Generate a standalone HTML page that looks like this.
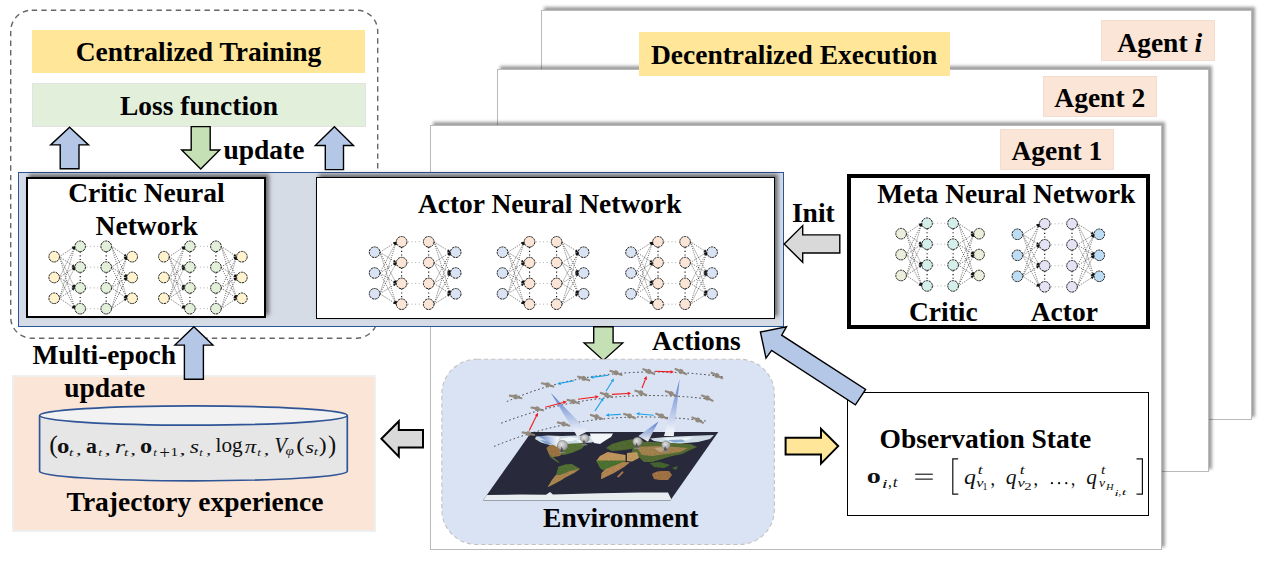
<!DOCTYPE html>
<html><head><meta charset="utf-8"><style>
html,body{margin:0;padding:0;background:#fff;}
#root{position:relative;width:1269px;height:562px;overflow:hidden;background:#fff;}
.b{position:absolute;}
.s{position:absolute;overflow:visible;}
.t{position:absolute;font-family:"Liberation Serif",serif;font-weight:bold;line-height:1;white-space:nowrap;color:#000;}
.t i{font-style:italic;}
.m,.m2{position:absolute;font-family:"Liberation Serif",serif;line-height:1;white-space:nowrap;color:#111;}
.m i,.m2 i{font-style:italic;}
.m sub{font-size:60%;font-style:italic;vertical-align:-0.3em;}
.m2 sub{font-size:62%;font-style:italic;vertical-align:-0.35em;}
.m2 sup{font-size:62%;font-style:italic;vertical-align:0.5em;}
.m2 .ss{display:inline-block;position:relative;}
.m2 .br{font-size:130%;}
</style></head>
<body><div id="root">
<div class="b" style="left:540.5px;top:9.6px;width:711.0px;height:410.4px;background:#fff;border:1.7px solid #bababa;box-sizing:border-box;box-shadow:3px -3px 3px rgba(0,0,0,0.38);"></div><div class="b" style="left:497px;top:68.5px;width:712px;height:403.5px;background:#fff;border:1.7px solid #bababa;box-sizing:border-box;box-shadow:3px -3px 3px rgba(0,0,0,0.38);"></div><div class="b" style="left:430px;top:125.2px;width:732.2px;height:424.59999999999997px;background:#fff;border:1.7px solid #bababa;box-sizing:border-box;box-shadow:3px -3px 3px rgba(0,0,0,0.38);"></div><div class="b" style="left:639px;top:32px;width:311px;height:43.7px;background:#FFE699;"></div><div class="t" style="left:494.15px;width:600px;text-align:center;top:40.82px;font-size:27.5px;">Decentralized Execution</div><div class="b" style="left:1101px;top:20px;width:114px;height:41.3px;background:#FBE5D6;border:1px solid #f3ddd0;box-sizing:border-box;"></div><div class="t" style="left:859.7px;width:600px;text-align:center;top:28.72px;font-size:27.5px;">Agent <i>i</i></div><div class="b" style="left:1042.5px;top:75.5px;width:114.0px;height:41.5px;background:#FBE5D6;border:1px solid #f3ddd0;box-sizing:border-box;"></div><div class="t" style="left:799.75px;width:600px;text-align:center;top:84.02px;font-size:27.5px;">Agent 2</div><div class="b" style="left:1000px;top:129px;width:114px;height:41px;background:#FBE5D6;border:1px solid #f3ddd0;box-sizing:border-box;"></div><div class="t" style="left:756.9000000000001px;width:600px;text-align:center;top:136.72px;font-size:27.5px;">Agent 1</div><svg class="s" width="1269" height="562" style="left:0;top:0"><rect x="10.7" y="10.2" width="367" height="328" rx="21" ry="21" fill="none" stroke="#666" stroke-width="1.4" stroke-dasharray="5.4 4.2"/></svg><div class="b" style="left:32px;top:30px;width:332.5px;height:42.7px;background:#FFE699;"></div><div class="t" style="left:-101.5px;width:600px;text-align:center;top:38.32px;font-size:27.5px;">Centralized Training</div><div class="b" style="left:31.6px;top:82.7px;width:334.59999999999997px;height:43.89999999999999px;background:#E2EFDA;border:1.2px solid #e2e2e2;box-sizing:border-box;"></div><div class="t" style="left:-101px;width:600px;text-align:center;top:92.07px;font-size:27.5px;">Loss function</div><div class="b" style="left:18.3px;top:171.8px;width:765.7px;height:155.09999999999997px;background:#D6DCE5;border:1.6px solid #2F5597;box-sizing:border-box;"></div><div class="b" style="left:25.8px;top:177.3px;width:240.39999999999998px;height:140.39999999999998px;background:#fff;border:2px solid #000;box-sizing:border-box;box-shadow:3px -3px 4px rgba(0,0,0,0.5);"></div><div class="b" style="left:315.8px;top:176.8px;width:459.09999999999997px;height:142.2px;background:#fff;border:1.5px solid #000;box-sizing:border-box;box-shadow:3px -3px 4px rgba(0,0,0,0.5);"></div><div class="t" style="left:-153.6px;width:600px;text-align:center;top:178.82px;font-size:27.5px;">Critic Neural</div><div class="t" style="left:-153.25px;width:600px;text-align:center;top:212.22px;font-size:27.5px;">Network</div><div class="t" style="left:249.75px;width:600px;text-align:center;top:190.12px;font-size:27.5px;">Actor Neural Network</div><div class="b" style="left:846.8px;top:173.9px;width:303.20000000000005px;height:154.9px;background:#fff;border:4.6px solid #000;box-sizing:border-box;"></div><div class="t" style="left:706.35px;width:600px;text-align:center;top:180.12px;font-size:27.5px;">Meta Neural Network</div><div class="t" style="left:643.3px;width:600px;text-align:center;top:298.22px;font-size:27.5px;">Critic</div><div class="t" style="left:764.3px;width:600px;text-align:center;top:298.22px;font-size:27.5px;">Actor</div><div class="t" style="left:791.9px;top:198.82px;font-size:27.5px;">Init</div><div class="b" style="left:847.4px;top:392.1px;width:301.80000000000007px;height:123.5px;background:#fff;border:1.9px solid #000;box-sizing:border-box;"></div><div class="t" style="left:685.35px;width:600px;text-align:center;top:424.92px;font-size:27.5px;">Observation State</div><div class="b" style="left:12px;top:374.9px;width:364.1px;height:156.89999999999998px;background:#FBE5D6;border:2px solid #efefef;box-sizing:border-box;"></div><div class="t" style="left:32.5px;top:341.02px;font-size:27.5px;">Multi-epoch</div><div class="t" style="left:64.2px;top:373.62px;font-size:27.5px;">update</div><div class="t" style="left:223.4px;top:135.92px;font-size:27.5px;">update</div><div class="t" style="left:-105px;width:600px;text-align:center;top:488.02px;font-size:27.5px;">Trajectory experience</div><div class="t" style="left:652.1px;top:327.12px;font-size:27.5px;">Actions</div><svg class="s" width="1269" height="562" style="left:0;top:0"><polygon points="69.60,127.20 88.50,144.90 79.00,144.90 79.00,168.80 60.20,168.80 60.20,144.90 50.70,144.90" fill="#B4C7E7" stroke="#000" stroke-width="1.4" stroke-linejoin="miter"/><polygon points="334.40,126.80 353.50,145.50 343.50,145.50 343.50,169.60 325.30,169.60 325.30,145.50 315.30,145.50" fill="#B4C7E7" stroke="#000" stroke-width="1.4" stroke-linejoin="miter"/><polygon points="191.20,126.60 210.20,126.60 210.20,150.00 219.70,150.00 200.70,168.90 181.70,150.00 191.20,150.00" fill="#C5E0B4" stroke="#000" stroke-width="1.4" stroke-linejoin="miter"/><polygon points="193.90,326.80 212.90,345.10 203.40,345.10 203.40,379.30 184.40,379.30 184.40,345.10 174.90,345.10" fill="#B4C7E7" stroke="#000" stroke-width="1.4" stroke-linejoin="miter"/><polygon points="593.70,326.80 613.10,326.80 613.10,342.90 622.70,342.90 603.40,360.40 584.10,342.90 593.70,342.90" fill="#C5E0B4" stroke="#000" stroke-width="1.4" stroke-linejoin="miter"/><polygon points="784.20,244.00 802.70,225.60 802.70,234.90 839.80,234.90 839.80,253.00 802.70,253.00 802.70,262.30" fill="#D9D9D9" stroke="#000" stroke-width="1.4"/><polygon points="381.40,438.80 398.80,421.20 398.80,430.00 423.00,430.00 423.00,447.40 398.80,447.40 398.80,456.60" fill="#D9D9D9" stroke="#000" stroke-width="2"/><polygon points="785.60,437.80 821.00,437.80 821.00,428.80 838.20,446.10 821.00,463.60 821.00,454.60 785.60,454.60" fill="#FFE699" stroke="#000" stroke-width="2"/><polygon points="760.40,332.00 786.50,326.70 781.70,335.20 865.60,389.40 855.40,404.80 771.60,350.40 766.00,358.10" fill="#B4C7E7" stroke="#000" stroke-width="1.4" stroke-linejoin="miter"/><g><line x1="59.50" y1="256.70" x2="74.90" y2="246.30" stroke="#333" stroke-width="0.65" stroke-dasharray="1.1 1.1" fill="none"/><path d="M74.90 246.30L73.25 249.22L71.57 246.74Z" fill="#111"/><line x1="59.50" y1="256.70" x2="74.90" y2="267.10" stroke="#333" stroke-width="0.65" stroke-dasharray="1.1 1.1" fill="none"/><path d="M74.90 267.10L71.57 266.66L73.25 264.18Z" fill="#111"/><line x1="59.50" y1="256.70" x2="74.90" y2="287.90" stroke="#333" stroke-width="0.65" stroke-dasharray="1.1 1.1" fill="none"/><path d="M74.90 287.90L72.23 285.87L74.92 284.55Z" fill="#111"/><line x1="59.50" y1="256.70" x2="74.90" y2="308.70" stroke="#333" stroke-width="0.65" stroke-dasharray="1.1 1.1" fill="none"/><path d="M74.90 308.70L72.61 306.25L75.49 305.40Z" fill="#111"/><line x1="59.50" y1="277.50" x2="74.90" y2="246.30" stroke="#333" stroke-width="0.65" stroke-dasharray="1.1 1.1" fill="none"/><path d="M74.90 246.30L74.92 249.65L72.23 248.33Z" fill="#111"/><line x1="59.50" y1="277.50" x2="74.90" y2="267.10" stroke="#333" stroke-width="0.65" stroke-dasharray="1.1 1.1" fill="none"/><path d="M74.90 267.10L73.25 270.02L71.57 267.54Z" fill="#111"/><line x1="59.50" y1="277.50" x2="74.90" y2="287.90" stroke="#333" stroke-width="0.65" stroke-dasharray="1.1 1.1" fill="none"/><path d="M74.90 287.90L71.57 287.46L73.25 284.98Z" fill="#111"/><line x1="59.50" y1="277.50" x2="74.90" y2="308.70" stroke="#333" stroke-width="0.65" stroke-dasharray="1.1 1.1" fill="none"/><path d="M74.90 308.70L72.23 306.67L74.92 305.35Z" fill="#111"/><line x1="59.50" y1="298.30" x2="74.90" y2="246.30" stroke="#333" stroke-width="0.65" stroke-dasharray="1.1 1.1" fill="none"/><path d="M74.90 246.30L75.49 249.60L72.61 248.75Z" fill="#111"/><line x1="59.50" y1="298.30" x2="74.90" y2="267.10" stroke="#333" stroke-width="0.65" stroke-dasharray="1.1 1.1" fill="none"/><path d="M74.90 267.10L74.92 270.45L72.23 269.13Z" fill="#111"/><line x1="59.50" y1="298.30" x2="74.90" y2="287.90" stroke="#333" stroke-width="0.65" stroke-dasharray="1.1 1.1" fill="none"/><path d="M74.90 287.90L73.25 290.82L71.57 288.34Z" fill="#111"/><line x1="59.50" y1="298.30" x2="74.90" y2="308.70" stroke="#333" stroke-width="0.65" stroke-dasharray="1.1 1.1" fill="none"/><path d="M74.90 308.70L71.57 308.26L73.25 305.78Z" fill="#111"/><line x1="111.50" y1="246.30" x2="126.90" y2="256.70" stroke="#333" stroke-width="0.65" stroke-dasharray="1.1 1.1" fill="none"/><path d="M126.90 256.70L123.57 256.26L125.25 253.78Z" fill="#111"/><line x1="111.50" y1="246.30" x2="126.90" y2="277.50" stroke="#333" stroke-width="0.65" stroke-dasharray="1.1 1.1" fill="none"/><path d="M126.90 277.50L124.23 275.47L126.92 274.15Z" fill="#111"/><line x1="111.50" y1="246.30" x2="126.90" y2="298.30" stroke="#333" stroke-width="0.65" stroke-dasharray="1.1 1.1" fill="none"/><path d="M126.90 298.30L124.61 295.85L127.49 295.00Z" fill="#111"/><line x1="111.50" y1="267.10" x2="126.90" y2="256.70" stroke="#333" stroke-width="0.65" stroke-dasharray="1.1 1.1" fill="none"/><path d="M126.90 256.70L125.25 259.62L123.57 257.14Z" fill="#111"/><line x1="111.50" y1="267.10" x2="126.90" y2="277.50" stroke="#333" stroke-width="0.65" stroke-dasharray="1.1 1.1" fill="none"/><path d="M126.90 277.50L123.57 277.06L125.25 274.58Z" fill="#111"/><line x1="111.50" y1="267.10" x2="126.90" y2="298.30" stroke="#333" stroke-width="0.65" stroke-dasharray="1.1 1.1" fill="none"/><path d="M126.90 298.30L124.23 296.27L126.92 294.95Z" fill="#111"/><line x1="111.50" y1="287.90" x2="126.90" y2="256.70" stroke="#333" stroke-width="0.65" stroke-dasharray="1.1 1.1" fill="none"/><path d="M126.90 256.70L126.92 260.05L124.23 258.73Z" fill="#111"/><line x1="111.50" y1="287.90" x2="126.90" y2="277.50" stroke="#333" stroke-width="0.65" stroke-dasharray="1.1 1.1" fill="none"/><path d="M126.90 277.50L125.25 280.42L123.57 277.94Z" fill="#111"/><line x1="111.50" y1="287.90" x2="126.90" y2="298.30" stroke="#333" stroke-width="0.65" stroke-dasharray="1.1 1.1" fill="none"/><path d="M126.90 298.30L123.57 297.86L125.25 295.38Z" fill="#111"/><line x1="111.50" y1="308.70" x2="126.90" y2="256.70" stroke="#333" stroke-width="0.65" stroke-dasharray="1.1 1.1" fill="none"/><path d="M126.90 256.70L127.49 260.00L124.61 259.15Z" fill="#111"/><line x1="111.50" y1="308.70" x2="126.90" y2="277.50" stroke="#333" stroke-width="0.65" stroke-dasharray="1.1 1.1" fill="none"/><path d="M126.90 277.50L126.92 280.85L124.23 279.53Z" fill="#111"/><line x1="111.50" y1="308.70" x2="126.90" y2="298.30" stroke="#333" stroke-width="0.65" stroke-dasharray="1.1 1.1" fill="none"/><path d="M126.90 298.30L125.25 301.22L123.57 298.74Z" fill="#111"/><line x1="86.50" y1="246.30" x2="99.90" y2="246.30" stroke="#8a8a8a" stroke-width="0.7" stroke-dasharray="1 2.6"/><line x1="86.50" y1="267.10" x2="99.90" y2="267.10" stroke="#8a8a8a" stroke-width="0.7" stroke-dasharray="1 2.6"/><line x1="86.50" y1="287.90" x2="99.90" y2="287.90" stroke="#8a8a8a" stroke-width="0.7" stroke-dasharray="1 2.6"/><line x1="86.50" y1="308.70" x2="99.90" y2="308.70" stroke="#8a8a8a" stroke-width="0.7" stroke-dasharray="1 2.6"/><line x1="80.20" y1="251.60" x2="80.20" y2="261.80" stroke="#111" stroke-width="1.15" stroke-dasharray="1.1 2.6"/><line x1="80.20" y1="272.40" x2="80.20" y2="282.60" stroke="#111" stroke-width="1.15" stroke-dasharray="1.1 2.6"/><line x1="80.20" y1="293.20" x2="80.20" y2="303.40" stroke="#111" stroke-width="1.15" stroke-dasharray="1.1 2.6"/><line x1="106.20" y1="251.60" x2="106.20" y2="261.80" stroke="#111" stroke-width="1.15" stroke-dasharray="1.1 2.6"/><line x1="106.20" y1="272.40" x2="106.20" y2="282.60" stroke="#111" stroke-width="1.15" stroke-dasharray="1.1 2.6"/><line x1="106.20" y1="293.20" x2="106.20" y2="303.40" stroke="#111" stroke-width="1.15" stroke-dasharray="1.1 2.6"/><circle cx="54.20" cy="256.70" r="5.3" fill="#FFF2CC" stroke="#1a1a1a" stroke-width="1" stroke-dasharray="2.2 0.7"/><circle cx="132.20" cy="256.70" r="5.3" fill="#FFF2CC" stroke="#1a1a1a" stroke-width="1" stroke-dasharray="2.2 0.7"/><circle cx="54.20" cy="277.50" r="5.3" fill="#FFF2CC" stroke="#1a1a1a" stroke-width="1" stroke-dasharray="2.2 0.7"/><circle cx="132.20" cy="277.50" r="5.3" fill="#FFF2CC" stroke="#1a1a1a" stroke-width="1" stroke-dasharray="2.2 0.7"/><circle cx="54.20" cy="298.30" r="5.3" fill="#FFF2CC" stroke="#1a1a1a" stroke-width="1" stroke-dasharray="2.2 0.7"/><circle cx="132.20" cy="298.30" r="5.3" fill="#FFF2CC" stroke="#1a1a1a" stroke-width="1" stroke-dasharray="2.2 0.7"/><circle cx="80.20" cy="246.30" r="5.3" fill="#E2F0D9" stroke="#1a1a1a" stroke-width="1" stroke-dasharray="2.2 0.7"/><circle cx="106.20" cy="246.30" r="5.3" fill="#E2F0D9" stroke="#1a1a1a" stroke-width="1" stroke-dasharray="2.2 0.7"/><circle cx="80.20" cy="267.10" r="5.3" fill="#E2F0D9" stroke="#1a1a1a" stroke-width="1" stroke-dasharray="2.2 0.7"/><circle cx="106.20" cy="267.10" r="5.3" fill="#E2F0D9" stroke="#1a1a1a" stroke-width="1" stroke-dasharray="2.2 0.7"/><circle cx="80.20" cy="287.90" r="5.3" fill="#E2F0D9" stroke="#1a1a1a" stroke-width="1" stroke-dasharray="2.2 0.7"/><circle cx="106.20" cy="287.90" r="5.3" fill="#E2F0D9" stroke="#1a1a1a" stroke-width="1" stroke-dasharray="2.2 0.7"/><circle cx="80.20" cy="308.70" r="5.3" fill="#E2F0D9" stroke="#1a1a1a" stroke-width="1" stroke-dasharray="2.2 0.7"/><circle cx="106.20" cy="308.70" r="5.3" fill="#E2F0D9" stroke="#1a1a1a" stroke-width="1" stroke-dasharray="2.2 0.7"/></g><g><line x1="169.20" y1="256.70" x2="184.60" y2="246.30" stroke="#333" stroke-width="0.65" stroke-dasharray="1.1 1.1" fill="none"/><path d="M184.60 246.30L182.95 249.22L181.27 246.74Z" fill="#111"/><line x1="169.20" y1="256.70" x2="184.60" y2="267.10" stroke="#333" stroke-width="0.65" stroke-dasharray="1.1 1.1" fill="none"/><path d="M184.60 267.10L181.27 266.66L182.95 264.18Z" fill="#111"/><line x1="169.20" y1="256.70" x2="184.60" y2="287.90" stroke="#333" stroke-width="0.65" stroke-dasharray="1.1 1.1" fill="none"/><path d="M184.60 287.90L181.93 285.87L184.62 284.55Z" fill="#111"/><line x1="169.20" y1="256.70" x2="184.60" y2="308.70" stroke="#333" stroke-width="0.65" stroke-dasharray="1.1 1.1" fill="none"/><path d="M184.60 308.70L182.31 306.25L185.19 305.40Z" fill="#111"/><line x1="169.20" y1="277.50" x2="184.60" y2="246.30" stroke="#333" stroke-width="0.65" stroke-dasharray="1.1 1.1" fill="none"/><path d="M184.60 246.30L184.62 249.65L181.93 248.33Z" fill="#111"/><line x1="169.20" y1="277.50" x2="184.60" y2="267.10" stroke="#333" stroke-width="0.65" stroke-dasharray="1.1 1.1" fill="none"/><path d="M184.60 267.10L182.95 270.02L181.27 267.54Z" fill="#111"/><line x1="169.20" y1="277.50" x2="184.60" y2="287.90" stroke="#333" stroke-width="0.65" stroke-dasharray="1.1 1.1" fill="none"/><path d="M184.60 287.90L181.27 287.46L182.95 284.98Z" fill="#111"/><line x1="169.20" y1="277.50" x2="184.60" y2="308.70" stroke="#333" stroke-width="0.65" stroke-dasharray="1.1 1.1" fill="none"/><path d="M184.60 308.70L181.93 306.67L184.62 305.35Z" fill="#111"/><line x1="169.20" y1="298.30" x2="184.60" y2="246.30" stroke="#333" stroke-width="0.65" stroke-dasharray="1.1 1.1" fill="none"/><path d="M184.60 246.30L185.19 249.60L182.31 248.75Z" fill="#111"/><line x1="169.20" y1="298.30" x2="184.60" y2="267.10" stroke="#333" stroke-width="0.65" stroke-dasharray="1.1 1.1" fill="none"/><path d="M184.60 267.10L184.62 270.45L181.93 269.13Z" fill="#111"/><line x1="169.20" y1="298.30" x2="184.60" y2="287.90" stroke="#333" stroke-width="0.65" stroke-dasharray="1.1 1.1" fill="none"/><path d="M184.60 287.90L182.95 290.82L181.27 288.34Z" fill="#111"/><line x1="169.20" y1="298.30" x2="184.60" y2="308.70" stroke="#333" stroke-width="0.65" stroke-dasharray="1.1 1.1" fill="none"/><path d="M184.60 308.70L181.27 308.26L182.95 305.78Z" fill="#111"/><line x1="221.20" y1="246.30" x2="236.60" y2="256.70" stroke="#333" stroke-width="0.65" stroke-dasharray="1.1 1.1" fill="none"/><path d="M236.60 256.70L233.27 256.26L234.95 253.78Z" fill="#111"/><line x1="221.20" y1="246.30" x2="236.60" y2="277.50" stroke="#333" stroke-width="0.65" stroke-dasharray="1.1 1.1" fill="none"/><path d="M236.60 277.50L233.93 275.47L236.62 274.15Z" fill="#111"/><line x1="221.20" y1="246.30" x2="236.60" y2="298.30" stroke="#333" stroke-width="0.65" stroke-dasharray="1.1 1.1" fill="none"/><path d="M236.60 298.30L234.31 295.85L237.19 295.00Z" fill="#111"/><line x1="221.20" y1="267.10" x2="236.60" y2="256.70" stroke="#333" stroke-width="0.65" stroke-dasharray="1.1 1.1" fill="none"/><path d="M236.60 256.70L234.95 259.62L233.27 257.14Z" fill="#111"/><line x1="221.20" y1="267.10" x2="236.60" y2="277.50" stroke="#333" stroke-width="0.65" stroke-dasharray="1.1 1.1" fill="none"/><path d="M236.60 277.50L233.27 277.06L234.95 274.58Z" fill="#111"/><line x1="221.20" y1="267.10" x2="236.60" y2="298.30" stroke="#333" stroke-width="0.65" stroke-dasharray="1.1 1.1" fill="none"/><path d="M236.60 298.30L233.93 296.27L236.62 294.95Z" fill="#111"/><line x1="221.20" y1="287.90" x2="236.60" y2="256.70" stroke="#333" stroke-width="0.65" stroke-dasharray="1.1 1.1" fill="none"/><path d="M236.60 256.70L236.62 260.05L233.93 258.73Z" fill="#111"/><line x1="221.20" y1="287.90" x2="236.60" y2="277.50" stroke="#333" stroke-width="0.65" stroke-dasharray="1.1 1.1" fill="none"/><path d="M236.60 277.50L234.95 280.42L233.27 277.94Z" fill="#111"/><line x1="221.20" y1="287.90" x2="236.60" y2="298.30" stroke="#333" stroke-width="0.65" stroke-dasharray="1.1 1.1" fill="none"/><path d="M236.60 298.30L233.27 297.86L234.95 295.38Z" fill="#111"/><line x1="221.20" y1="308.70" x2="236.60" y2="256.70" stroke="#333" stroke-width="0.65" stroke-dasharray="1.1 1.1" fill="none"/><path d="M236.60 256.70L237.19 260.00L234.31 259.15Z" fill="#111"/><line x1="221.20" y1="308.70" x2="236.60" y2="277.50" stroke="#333" stroke-width="0.65" stroke-dasharray="1.1 1.1" fill="none"/><path d="M236.60 277.50L236.62 280.85L233.93 279.53Z" fill="#111"/><line x1="221.20" y1="308.70" x2="236.60" y2="298.30" stroke="#333" stroke-width="0.65" stroke-dasharray="1.1 1.1" fill="none"/><path d="M236.60 298.30L234.95 301.22L233.27 298.74Z" fill="#111"/><line x1="196.20" y1="246.30" x2="209.60" y2="246.30" stroke="#8a8a8a" stroke-width="0.7" stroke-dasharray="1 2.6"/><line x1="196.20" y1="267.10" x2="209.60" y2="267.10" stroke="#8a8a8a" stroke-width="0.7" stroke-dasharray="1 2.6"/><line x1="196.20" y1="287.90" x2="209.60" y2="287.90" stroke="#8a8a8a" stroke-width="0.7" stroke-dasharray="1 2.6"/><line x1="196.20" y1="308.70" x2="209.60" y2="308.70" stroke="#8a8a8a" stroke-width="0.7" stroke-dasharray="1 2.6"/><line x1="189.90" y1="251.60" x2="189.90" y2="261.80" stroke="#111" stroke-width="1.15" stroke-dasharray="1.1 2.6"/><line x1="189.90" y1="272.40" x2="189.90" y2="282.60" stroke="#111" stroke-width="1.15" stroke-dasharray="1.1 2.6"/><line x1="189.90" y1="293.20" x2="189.90" y2="303.40" stroke="#111" stroke-width="1.15" stroke-dasharray="1.1 2.6"/><line x1="215.90" y1="251.60" x2="215.90" y2="261.80" stroke="#111" stroke-width="1.15" stroke-dasharray="1.1 2.6"/><line x1="215.90" y1="272.40" x2="215.90" y2="282.60" stroke="#111" stroke-width="1.15" stroke-dasharray="1.1 2.6"/><line x1="215.90" y1="293.20" x2="215.90" y2="303.40" stroke="#111" stroke-width="1.15" stroke-dasharray="1.1 2.6"/><circle cx="163.90" cy="256.70" r="5.3" fill="#FFF2CC" stroke="#1a1a1a" stroke-width="1" stroke-dasharray="2.2 0.7"/><circle cx="241.90" cy="256.70" r="5.3" fill="#FFF2CC" stroke="#1a1a1a" stroke-width="1" stroke-dasharray="2.2 0.7"/><circle cx="163.90" cy="277.50" r="5.3" fill="#FFF2CC" stroke="#1a1a1a" stroke-width="1" stroke-dasharray="2.2 0.7"/><circle cx="241.90" cy="277.50" r="5.3" fill="#FFF2CC" stroke="#1a1a1a" stroke-width="1" stroke-dasharray="2.2 0.7"/><circle cx="163.90" cy="298.30" r="5.3" fill="#FFF2CC" stroke="#1a1a1a" stroke-width="1" stroke-dasharray="2.2 0.7"/><circle cx="241.90" cy="298.30" r="5.3" fill="#FFF2CC" stroke="#1a1a1a" stroke-width="1" stroke-dasharray="2.2 0.7"/><circle cx="189.90" cy="246.30" r="5.3" fill="#E2F0D9" stroke="#1a1a1a" stroke-width="1" stroke-dasharray="2.2 0.7"/><circle cx="215.90" cy="246.30" r="5.3" fill="#E2F0D9" stroke="#1a1a1a" stroke-width="1" stroke-dasharray="2.2 0.7"/><circle cx="189.90" cy="267.10" r="5.3" fill="#E2F0D9" stroke="#1a1a1a" stroke-width="1" stroke-dasharray="2.2 0.7"/><circle cx="215.90" cy="267.10" r="5.3" fill="#E2F0D9" stroke="#1a1a1a" stroke-width="1" stroke-dasharray="2.2 0.7"/><circle cx="189.90" cy="287.90" r="5.3" fill="#E2F0D9" stroke="#1a1a1a" stroke-width="1" stroke-dasharray="2.2 0.7"/><circle cx="215.90" cy="287.90" r="5.3" fill="#E2F0D9" stroke="#1a1a1a" stroke-width="1" stroke-dasharray="2.2 0.7"/><circle cx="189.90" cy="308.70" r="5.3" fill="#E2F0D9" stroke="#1a1a1a" stroke-width="1" stroke-dasharray="2.2 0.7"/><circle cx="215.90" cy="308.70" r="5.3" fill="#E2F0D9" stroke="#1a1a1a" stroke-width="1" stroke-dasharray="2.2 0.7"/></g><g><line x1="379.90" y1="252.20" x2="396.34" y2="241.80" stroke="#333" stroke-width="0.65" stroke-dasharray="1.1 1.1" fill="none"/><path d="M396.34 241.80L394.61 244.67L393.00 242.14Z" fill="#111"/><line x1="379.90" y1="252.20" x2="396.34" y2="262.60" stroke="#333" stroke-width="0.65" stroke-dasharray="1.1 1.1" fill="none"/><path d="M396.34 262.60L393.00 262.26L394.61 259.73Z" fill="#111"/><line x1="379.90" y1="252.20" x2="396.34" y2="283.40" stroke="#333" stroke-width="0.65" stroke-dasharray="1.1 1.1" fill="none"/><path d="M396.34 283.40L393.61 281.45L396.27 280.05Z" fill="#111"/><line x1="379.90" y1="252.20" x2="396.34" y2="304.20" stroke="#333" stroke-width="0.65" stroke-dasharray="1.1 1.1" fill="none"/><path d="M396.34 304.20L394.01 301.79L396.87 300.89Z" fill="#111"/><line x1="379.90" y1="273.00" x2="396.34" y2="241.80" stroke="#333" stroke-width="0.65" stroke-dasharray="1.1 1.1" fill="none"/><path d="M396.34 241.80L396.27 245.15L393.61 243.75Z" fill="#111"/><line x1="379.90" y1="273.00" x2="396.34" y2="262.60" stroke="#333" stroke-width="0.65" stroke-dasharray="1.1 1.1" fill="none"/><path d="M396.34 262.60L394.61 265.47L393.00 262.94Z" fill="#111"/><line x1="379.90" y1="273.00" x2="396.34" y2="283.40" stroke="#333" stroke-width="0.65" stroke-dasharray="1.1 1.1" fill="none"/><path d="M396.34 283.40L393.00 283.06L394.61 280.53Z" fill="#111"/><line x1="379.90" y1="273.00" x2="396.34" y2="304.20" stroke="#333" stroke-width="0.65" stroke-dasharray="1.1 1.1" fill="none"/><path d="M396.34 304.20L393.61 302.25L396.27 300.85Z" fill="#111"/><line x1="379.90" y1="293.80" x2="396.34" y2="241.80" stroke="#333" stroke-width="0.65" stroke-dasharray="1.1 1.1" fill="none"/><path d="M396.34 241.80L396.87 245.11L394.01 244.21Z" fill="#111"/><line x1="379.90" y1="293.80" x2="396.34" y2="262.60" stroke="#333" stroke-width="0.65" stroke-dasharray="1.1 1.1" fill="none"/><path d="M396.34 262.60L396.27 265.95L393.61 264.55Z" fill="#111"/><line x1="379.90" y1="293.80" x2="396.34" y2="283.40" stroke="#333" stroke-width="0.65" stroke-dasharray="1.1 1.1" fill="none"/><path d="M396.34 283.40L394.61 286.27L393.00 283.74Z" fill="#111"/><line x1="379.90" y1="293.80" x2="396.34" y2="304.20" stroke="#333" stroke-width="0.65" stroke-dasharray="1.1 1.1" fill="none"/><path d="M396.34 304.20L393.00 303.86L394.61 301.33Z" fill="#111"/><line x1="433.98" y1="241.80" x2="450.42" y2="252.20" stroke="#333" stroke-width="0.65" stroke-dasharray="1.1 1.1" fill="none"/><path d="M450.42 252.20L447.08 251.86L448.69 249.33Z" fill="#111"/><line x1="433.98" y1="241.80" x2="450.42" y2="273.00" stroke="#333" stroke-width="0.65" stroke-dasharray="1.1 1.1" fill="none"/><path d="M450.42 273.00L447.69 271.05L450.35 269.65Z" fill="#111"/><line x1="433.98" y1="241.80" x2="450.42" y2="293.80" stroke="#333" stroke-width="0.65" stroke-dasharray="1.1 1.1" fill="none"/><path d="M450.42 293.80L448.09 291.39L450.95 290.49Z" fill="#111"/><line x1="433.98" y1="262.60" x2="450.42" y2="252.20" stroke="#333" stroke-width="0.65" stroke-dasharray="1.1 1.1" fill="none"/><path d="M450.42 252.20L448.69 255.07L447.08 252.54Z" fill="#111"/><line x1="433.98" y1="262.60" x2="450.42" y2="273.00" stroke="#333" stroke-width="0.65" stroke-dasharray="1.1 1.1" fill="none"/><path d="M450.42 273.00L447.08 272.66L448.69 270.13Z" fill="#111"/><line x1="433.98" y1="262.60" x2="450.42" y2="293.80" stroke="#333" stroke-width="0.65" stroke-dasharray="1.1 1.1" fill="none"/><path d="M450.42 293.80L447.69 291.85L450.35 290.45Z" fill="#111"/><line x1="433.98" y1="283.40" x2="450.42" y2="252.20" stroke="#333" stroke-width="0.65" stroke-dasharray="1.1 1.1" fill="none"/><path d="M450.42 252.20L450.35 255.55L447.69 254.15Z" fill="#111"/><line x1="433.98" y1="283.40" x2="450.42" y2="273.00" stroke="#333" stroke-width="0.65" stroke-dasharray="1.1 1.1" fill="none"/><path d="M450.42 273.00L448.69 275.87L447.08 273.34Z" fill="#111"/><line x1="433.98" y1="283.40" x2="450.42" y2="293.80" stroke="#333" stroke-width="0.65" stroke-dasharray="1.1 1.1" fill="none"/><path d="M450.42 293.80L447.08 293.46L448.69 290.93Z" fill="#111"/><line x1="433.98" y1="304.20" x2="450.42" y2="252.20" stroke="#333" stroke-width="0.65" stroke-dasharray="1.1 1.1" fill="none"/><path d="M450.42 252.20L450.95 255.51L448.09 254.61Z" fill="#111"/><line x1="433.98" y1="304.20" x2="450.42" y2="273.00" stroke="#333" stroke-width="0.65" stroke-dasharray="1.1 1.1" fill="none"/><path d="M450.42 273.00L450.35 276.35L447.69 274.95Z" fill="#111"/><line x1="433.98" y1="304.20" x2="450.42" y2="293.80" stroke="#333" stroke-width="0.65" stroke-dasharray="1.1 1.1" fill="none"/><path d="M450.42 293.80L448.69 296.67L447.08 294.14Z" fill="#111"/><line x1="407.94" y1="241.80" x2="422.38" y2="241.80" stroke="#8a8a8a" stroke-width="0.7" stroke-dasharray="1 2.6"/><line x1="407.94" y1="262.60" x2="422.38" y2="262.60" stroke="#8a8a8a" stroke-width="0.7" stroke-dasharray="1 2.6"/><line x1="407.94" y1="283.40" x2="422.38" y2="283.40" stroke="#8a8a8a" stroke-width="0.7" stroke-dasharray="1 2.6"/><line x1="407.94" y1="304.20" x2="422.38" y2="304.20" stroke="#8a8a8a" stroke-width="0.7" stroke-dasharray="1 2.6"/><line x1="401.64" y1="247.10" x2="401.64" y2="257.30" stroke="#111" stroke-width="1.15" stroke-dasharray="1.1 2.6"/><line x1="401.64" y1="267.90" x2="401.64" y2="278.10" stroke="#111" stroke-width="1.15" stroke-dasharray="1.1 2.6"/><line x1="401.64" y1="288.70" x2="401.64" y2="298.90" stroke="#111" stroke-width="1.15" stroke-dasharray="1.1 2.6"/><line x1="428.68" y1="247.10" x2="428.68" y2="257.30" stroke="#111" stroke-width="1.15" stroke-dasharray="1.1 2.6"/><line x1="428.68" y1="267.90" x2="428.68" y2="278.10" stroke="#111" stroke-width="1.15" stroke-dasharray="1.1 2.6"/><line x1="428.68" y1="288.70" x2="428.68" y2="298.90" stroke="#111" stroke-width="1.15" stroke-dasharray="1.1 2.6"/><circle cx="374.60" cy="252.20" r="5.3" fill="#DAE3F3" stroke="#1a1a1a" stroke-width="1" stroke-dasharray="2.2 0.7"/><circle cx="455.72" cy="252.20" r="5.3" fill="#DAE3F3" stroke="#1a1a1a" stroke-width="1" stroke-dasharray="2.2 0.7"/><circle cx="374.60" cy="273.00" r="5.3" fill="#DAE3F3" stroke="#1a1a1a" stroke-width="1" stroke-dasharray="2.2 0.7"/><circle cx="455.72" cy="273.00" r="5.3" fill="#DAE3F3" stroke="#1a1a1a" stroke-width="1" stroke-dasharray="2.2 0.7"/><circle cx="374.60" cy="293.80" r="5.3" fill="#DAE3F3" stroke="#1a1a1a" stroke-width="1" stroke-dasharray="2.2 0.7"/><circle cx="455.72" cy="293.80" r="5.3" fill="#DAE3F3" stroke="#1a1a1a" stroke-width="1" stroke-dasharray="2.2 0.7"/><circle cx="401.64" cy="241.80" r="5.3" fill="#FBE5D6" stroke="#1a1a1a" stroke-width="1" stroke-dasharray="2.2 0.7"/><circle cx="428.68" cy="241.80" r="5.3" fill="#FBE5D6" stroke="#1a1a1a" stroke-width="1" stroke-dasharray="2.2 0.7"/><circle cx="401.64" cy="262.60" r="5.3" fill="#FBE5D6" stroke="#1a1a1a" stroke-width="1" stroke-dasharray="2.2 0.7"/><circle cx="428.68" cy="262.60" r="5.3" fill="#FBE5D6" stroke="#1a1a1a" stroke-width="1" stroke-dasharray="2.2 0.7"/><circle cx="401.64" cy="283.40" r="5.3" fill="#FBE5D6" stroke="#1a1a1a" stroke-width="1" stroke-dasharray="2.2 0.7"/><circle cx="428.68" cy="283.40" r="5.3" fill="#FBE5D6" stroke="#1a1a1a" stroke-width="1" stroke-dasharray="2.2 0.7"/><circle cx="401.64" cy="304.20" r="5.3" fill="#FBE5D6" stroke="#1a1a1a" stroke-width="1" stroke-dasharray="2.2 0.7"/><circle cx="428.68" cy="304.20" r="5.3" fill="#FBE5D6" stroke="#1a1a1a" stroke-width="1" stroke-dasharray="2.2 0.7"/></g><g><line x1="507.80" y1="252.20" x2="524.24" y2="241.80" stroke="#333" stroke-width="0.65" stroke-dasharray="1.1 1.1" fill="none"/><path d="M524.24 241.80L522.51 244.67L520.90 242.14Z" fill="#111"/><line x1="507.80" y1="252.20" x2="524.24" y2="262.60" stroke="#333" stroke-width="0.65" stroke-dasharray="1.1 1.1" fill="none"/><path d="M524.24 262.60L520.90 262.26L522.51 259.73Z" fill="#111"/><line x1="507.80" y1="252.20" x2="524.24" y2="283.40" stroke="#333" stroke-width="0.65" stroke-dasharray="1.1 1.1" fill="none"/><path d="M524.24 283.40L521.51 281.45L524.17 280.05Z" fill="#111"/><line x1="507.80" y1="252.20" x2="524.24" y2="304.20" stroke="#333" stroke-width="0.65" stroke-dasharray="1.1 1.1" fill="none"/><path d="M524.24 304.20L521.91 301.79L524.77 300.89Z" fill="#111"/><line x1="507.80" y1="273.00" x2="524.24" y2="241.80" stroke="#333" stroke-width="0.65" stroke-dasharray="1.1 1.1" fill="none"/><path d="M524.24 241.80L524.17 245.15L521.51 243.75Z" fill="#111"/><line x1="507.80" y1="273.00" x2="524.24" y2="262.60" stroke="#333" stroke-width="0.65" stroke-dasharray="1.1 1.1" fill="none"/><path d="M524.24 262.60L522.51 265.47L520.90 262.94Z" fill="#111"/><line x1="507.80" y1="273.00" x2="524.24" y2="283.40" stroke="#333" stroke-width="0.65" stroke-dasharray="1.1 1.1" fill="none"/><path d="M524.24 283.40L520.90 283.06L522.51 280.53Z" fill="#111"/><line x1="507.80" y1="273.00" x2="524.24" y2="304.20" stroke="#333" stroke-width="0.65" stroke-dasharray="1.1 1.1" fill="none"/><path d="M524.24 304.20L521.51 302.25L524.17 300.85Z" fill="#111"/><line x1="507.80" y1="293.80" x2="524.24" y2="241.80" stroke="#333" stroke-width="0.65" stroke-dasharray="1.1 1.1" fill="none"/><path d="M524.24 241.80L524.77 245.11L521.91 244.21Z" fill="#111"/><line x1="507.80" y1="293.80" x2="524.24" y2="262.60" stroke="#333" stroke-width="0.65" stroke-dasharray="1.1 1.1" fill="none"/><path d="M524.24 262.60L524.17 265.95L521.51 264.55Z" fill="#111"/><line x1="507.80" y1="293.80" x2="524.24" y2="283.40" stroke="#333" stroke-width="0.65" stroke-dasharray="1.1 1.1" fill="none"/><path d="M524.24 283.40L522.51 286.27L520.90 283.74Z" fill="#111"/><line x1="507.80" y1="293.80" x2="524.24" y2="304.20" stroke="#333" stroke-width="0.65" stroke-dasharray="1.1 1.1" fill="none"/><path d="M524.24 304.20L520.90 303.86L522.51 301.33Z" fill="#111"/><line x1="561.88" y1="241.80" x2="578.32" y2="252.20" stroke="#333" stroke-width="0.65" stroke-dasharray="1.1 1.1" fill="none"/><path d="M578.32 252.20L574.98 251.86L576.59 249.33Z" fill="#111"/><line x1="561.88" y1="241.80" x2="578.32" y2="273.00" stroke="#333" stroke-width="0.65" stroke-dasharray="1.1 1.1" fill="none"/><path d="M578.32 273.00L575.59 271.05L578.25 269.65Z" fill="#111"/><line x1="561.88" y1="241.80" x2="578.32" y2="293.80" stroke="#333" stroke-width="0.65" stroke-dasharray="1.1 1.1" fill="none"/><path d="M578.32 293.80L575.99 291.39L578.85 290.49Z" fill="#111"/><line x1="561.88" y1="262.60" x2="578.32" y2="252.20" stroke="#333" stroke-width="0.65" stroke-dasharray="1.1 1.1" fill="none"/><path d="M578.32 252.20L576.59 255.07L574.98 252.54Z" fill="#111"/><line x1="561.88" y1="262.60" x2="578.32" y2="273.00" stroke="#333" stroke-width="0.65" stroke-dasharray="1.1 1.1" fill="none"/><path d="M578.32 273.00L574.98 272.66L576.59 270.13Z" fill="#111"/><line x1="561.88" y1="262.60" x2="578.32" y2="293.80" stroke="#333" stroke-width="0.65" stroke-dasharray="1.1 1.1" fill="none"/><path d="M578.32 293.80L575.59 291.85L578.25 290.45Z" fill="#111"/><line x1="561.88" y1="283.40" x2="578.32" y2="252.20" stroke="#333" stroke-width="0.65" stroke-dasharray="1.1 1.1" fill="none"/><path d="M578.32 252.20L578.25 255.55L575.59 254.15Z" fill="#111"/><line x1="561.88" y1="283.40" x2="578.32" y2="273.00" stroke="#333" stroke-width="0.65" stroke-dasharray="1.1 1.1" fill="none"/><path d="M578.32 273.00L576.59 275.87L574.98 273.34Z" fill="#111"/><line x1="561.88" y1="283.40" x2="578.32" y2="293.80" stroke="#333" stroke-width="0.65" stroke-dasharray="1.1 1.1" fill="none"/><path d="M578.32 293.80L574.98 293.46L576.59 290.93Z" fill="#111"/><line x1="561.88" y1="304.20" x2="578.32" y2="252.20" stroke="#333" stroke-width="0.65" stroke-dasharray="1.1 1.1" fill="none"/><path d="M578.32 252.20L578.85 255.51L575.99 254.61Z" fill="#111"/><line x1="561.88" y1="304.20" x2="578.32" y2="273.00" stroke="#333" stroke-width="0.65" stroke-dasharray="1.1 1.1" fill="none"/><path d="M578.32 273.00L578.25 276.35L575.59 274.95Z" fill="#111"/><line x1="561.88" y1="304.20" x2="578.32" y2="293.80" stroke="#333" stroke-width="0.65" stroke-dasharray="1.1 1.1" fill="none"/><path d="M578.32 293.80L576.59 296.67L574.98 294.14Z" fill="#111"/><line x1="535.84" y1="241.80" x2="550.28" y2="241.80" stroke="#8a8a8a" stroke-width="0.7" stroke-dasharray="1 2.6"/><line x1="535.84" y1="262.60" x2="550.28" y2="262.60" stroke="#8a8a8a" stroke-width="0.7" stroke-dasharray="1 2.6"/><line x1="535.84" y1="283.40" x2="550.28" y2="283.40" stroke="#8a8a8a" stroke-width="0.7" stroke-dasharray="1 2.6"/><line x1="535.84" y1="304.20" x2="550.28" y2="304.20" stroke="#8a8a8a" stroke-width="0.7" stroke-dasharray="1 2.6"/><line x1="529.54" y1="247.10" x2="529.54" y2="257.30" stroke="#111" stroke-width="1.15" stroke-dasharray="1.1 2.6"/><line x1="529.54" y1="267.90" x2="529.54" y2="278.10" stroke="#111" stroke-width="1.15" stroke-dasharray="1.1 2.6"/><line x1="529.54" y1="288.70" x2="529.54" y2="298.90" stroke="#111" stroke-width="1.15" stroke-dasharray="1.1 2.6"/><line x1="556.58" y1="247.10" x2="556.58" y2="257.30" stroke="#111" stroke-width="1.15" stroke-dasharray="1.1 2.6"/><line x1="556.58" y1="267.90" x2="556.58" y2="278.10" stroke="#111" stroke-width="1.15" stroke-dasharray="1.1 2.6"/><line x1="556.58" y1="288.70" x2="556.58" y2="298.90" stroke="#111" stroke-width="1.15" stroke-dasharray="1.1 2.6"/><circle cx="502.50" cy="252.20" r="5.3" fill="#DAE3F3" stroke="#1a1a1a" stroke-width="1" stroke-dasharray="2.2 0.7"/><circle cx="583.62" cy="252.20" r="5.3" fill="#DAE3F3" stroke="#1a1a1a" stroke-width="1" stroke-dasharray="2.2 0.7"/><circle cx="502.50" cy="273.00" r="5.3" fill="#DAE3F3" stroke="#1a1a1a" stroke-width="1" stroke-dasharray="2.2 0.7"/><circle cx="583.62" cy="273.00" r="5.3" fill="#DAE3F3" stroke="#1a1a1a" stroke-width="1" stroke-dasharray="2.2 0.7"/><circle cx="502.50" cy="293.80" r="5.3" fill="#DAE3F3" stroke="#1a1a1a" stroke-width="1" stroke-dasharray="2.2 0.7"/><circle cx="583.62" cy="293.80" r="5.3" fill="#DAE3F3" stroke="#1a1a1a" stroke-width="1" stroke-dasharray="2.2 0.7"/><circle cx="529.54" cy="241.80" r="5.3" fill="#FBE5D6" stroke="#1a1a1a" stroke-width="1" stroke-dasharray="2.2 0.7"/><circle cx="556.58" cy="241.80" r="5.3" fill="#FBE5D6" stroke="#1a1a1a" stroke-width="1" stroke-dasharray="2.2 0.7"/><circle cx="529.54" cy="262.60" r="5.3" fill="#FBE5D6" stroke="#1a1a1a" stroke-width="1" stroke-dasharray="2.2 0.7"/><circle cx="556.58" cy="262.60" r="5.3" fill="#FBE5D6" stroke="#1a1a1a" stroke-width="1" stroke-dasharray="2.2 0.7"/><circle cx="529.54" cy="283.40" r="5.3" fill="#FBE5D6" stroke="#1a1a1a" stroke-width="1" stroke-dasharray="2.2 0.7"/><circle cx="556.58" cy="283.40" r="5.3" fill="#FBE5D6" stroke="#1a1a1a" stroke-width="1" stroke-dasharray="2.2 0.7"/><circle cx="529.54" cy="304.20" r="5.3" fill="#FBE5D6" stroke="#1a1a1a" stroke-width="1" stroke-dasharray="2.2 0.7"/><circle cx="556.58" cy="304.20" r="5.3" fill="#FBE5D6" stroke="#1a1a1a" stroke-width="1" stroke-dasharray="2.2 0.7"/></g><g><line x1="636.30" y1="252.20" x2="652.74" y2="241.80" stroke="#333" stroke-width="0.65" stroke-dasharray="1.1 1.1" fill="none"/><path d="M652.74 241.80L651.01 244.67L649.40 242.14Z" fill="#111"/><line x1="636.30" y1="252.20" x2="652.74" y2="262.60" stroke="#333" stroke-width="0.65" stroke-dasharray="1.1 1.1" fill="none"/><path d="M652.74 262.60L649.40 262.26L651.01 259.73Z" fill="#111"/><line x1="636.30" y1="252.20" x2="652.74" y2="283.40" stroke="#333" stroke-width="0.65" stroke-dasharray="1.1 1.1" fill="none"/><path d="M652.74 283.40L650.01 281.45L652.67 280.05Z" fill="#111"/><line x1="636.30" y1="252.20" x2="652.74" y2="304.20" stroke="#333" stroke-width="0.65" stroke-dasharray="1.1 1.1" fill="none"/><path d="M652.74 304.20L650.41 301.79L653.27 300.89Z" fill="#111"/><line x1="636.30" y1="273.00" x2="652.74" y2="241.80" stroke="#333" stroke-width="0.65" stroke-dasharray="1.1 1.1" fill="none"/><path d="M652.74 241.80L652.67 245.15L650.01 243.75Z" fill="#111"/><line x1="636.30" y1="273.00" x2="652.74" y2="262.60" stroke="#333" stroke-width="0.65" stroke-dasharray="1.1 1.1" fill="none"/><path d="M652.74 262.60L651.01 265.47L649.40 262.94Z" fill="#111"/><line x1="636.30" y1="273.00" x2="652.74" y2="283.40" stroke="#333" stroke-width="0.65" stroke-dasharray="1.1 1.1" fill="none"/><path d="M652.74 283.40L649.40 283.06L651.01 280.53Z" fill="#111"/><line x1="636.30" y1="273.00" x2="652.74" y2="304.20" stroke="#333" stroke-width="0.65" stroke-dasharray="1.1 1.1" fill="none"/><path d="M652.74 304.20L650.01 302.25L652.67 300.85Z" fill="#111"/><line x1="636.30" y1="293.80" x2="652.74" y2="241.80" stroke="#333" stroke-width="0.65" stroke-dasharray="1.1 1.1" fill="none"/><path d="M652.74 241.80L653.27 245.11L650.41 244.21Z" fill="#111"/><line x1="636.30" y1="293.80" x2="652.74" y2="262.60" stroke="#333" stroke-width="0.65" stroke-dasharray="1.1 1.1" fill="none"/><path d="M652.74 262.60L652.67 265.95L650.01 264.55Z" fill="#111"/><line x1="636.30" y1="293.80" x2="652.74" y2="283.40" stroke="#333" stroke-width="0.65" stroke-dasharray="1.1 1.1" fill="none"/><path d="M652.74 283.40L651.01 286.27L649.40 283.74Z" fill="#111"/><line x1="636.30" y1="293.80" x2="652.74" y2="304.20" stroke="#333" stroke-width="0.65" stroke-dasharray="1.1 1.1" fill="none"/><path d="M652.74 304.20L649.40 303.86L651.01 301.33Z" fill="#111"/><line x1="690.38" y1="241.80" x2="706.82" y2="252.20" stroke="#333" stroke-width="0.65" stroke-dasharray="1.1 1.1" fill="none"/><path d="M706.82 252.20L703.48 251.86L705.09 249.33Z" fill="#111"/><line x1="690.38" y1="241.80" x2="706.82" y2="273.00" stroke="#333" stroke-width="0.65" stroke-dasharray="1.1 1.1" fill="none"/><path d="M706.82 273.00L704.09 271.05L706.75 269.65Z" fill="#111"/><line x1="690.38" y1="241.80" x2="706.82" y2="293.80" stroke="#333" stroke-width="0.65" stroke-dasharray="1.1 1.1" fill="none"/><path d="M706.82 293.80L704.49 291.39L707.35 290.49Z" fill="#111"/><line x1="690.38" y1="262.60" x2="706.82" y2="252.20" stroke="#333" stroke-width="0.65" stroke-dasharray="1.1 1.1" fill="none"/><path d="M706.82 252.20L705.09 255.07L703.48 252.54Z" fill="#111"/><line x1="690.38" y1="262.60" x2="706.82" y2="273.00" stroke="#333" stroke-width="0.65" stroke-dasharray="1.1 1.1" fill="none"/><path d="M706.82 273.00L703.48 272.66L705.09 270.13Z" fill="#111"/><line x1="690.38" y1="262.60" x2="706.82" y2="293.80" stroke="#333" stroke-width="0.65" stroke-dasharray="1.1 1.1" fill="none"/><path d="M706.82 293.80L704.09 291.85L706.75 290.45Z" fill="#111"/><line x1="690.38" y1="283.40" x2="706.82" y2="252.20" stroke="#333" stroke-width="0.65" stroke-dasharray="1.1 1.1" fill="none"/><path d="M706.82 252.20L706.75 255.55L704.09 254.15Z" fill="#111"/><line x1="690.38" y1="283.40" x2="706.82" y2="273.00" stroke="#333" stroke-width="0.65" stroke-dasharray="1.1 1.1" fill="none"/><path d="M706.82 273.00L705.09 275.87L703.48 273.34Z" fill="#111"/><line x1="690.38" y1="283.40" x2="706.82" y2="293.80" stroke="#333" stroke-width="0.65" stroke-dasharray="1.1 1.1" fill="none"/><path d="M706.82 293.80L703.48 293.46L705.09 290.93Z" fill="#111"/><line x1="690.38" y1="304.20" x2="706.82" y2="252.20" stroke="#333" stroke-width="0.65" stroke-dasharray="1.1 1.1" fill="none"/><path d="M706.82 252.20L707.35 255.51L704.49 254.61Z" fill="#111"/><line x1="690.38" y1="304.20" x2="706.82" y2="273.00" stroke="#333" stroke-width="0.65" stroke-dasharray="1.1 1.1" fill="none"/><path d="M706.82 273.00L706.75 276.35L704.09 274.95Z" fill="#111"/><line x1="690.38" y1="304.20" x2="706.82" y2="293.80" stroke="#333" stroke-width="0.65" stroke-dasharray="1.1 1.1" fill="none"/><path d="M706.82 293.80L705.09 296.67L703.48 294.14Z" fill="#111"/><line x1="664.34" y1="241.80" x2="678.78" y2="241.80" stroke="#8a8a8a" stroke-width="0.7" stroke-dasharray="1 2.6"/><line x1="664.34" y1="262.60" x2="678.78" y2="262.60" stroke="#8a8a8a" stroke-width="0.7" stroke-dasharray="1 2.6"/><line x1="664.34" y1="283.40" x2="678.78" y2="283.40" stroke="#8a8a8a" stroke-width="0.7" stroke-dasharray="1 2.6"/><line x1="664.34" y1="304.20" x2="678.78" y2="304.20" stroke="#8a8a8a" stroke-width="0.7" stroke-dasharray="1 2.6"/><line x1="658.04" y1="247.10" x2="658.04" y2="257.30" stroke="#111" stroke-width="1.15" stroke-dasharray="1.1 2.6"/><line x1="658.04" y1="267.90" x2="658.04" y2="278.10" stroke="#111" stroke-width="1.15" stroke-dasharray="1.1 2.6"/><line x1="658.04" y1="288.70" x2="658.04" y2="298.90" stroke="#111" stroke-width="1.15" stroke-dasharray="1.1 2.6"/><line x1="685.08" y1="247.10" x2="685.08" y2="257.30" stroke="#111" stroke-width="1.15" stroke-dasharray="1.1 2.6"/><line x1="685.08" y1="267.90" x2="685.08" y2="278.10" stroke="#111" stroke-width="1.15" stroke-dasharray="1.1 2.6"/><line x1="685.08" y1="288.70" x2="685.08" y2="298.90" stroke="#111" stroke-width="1.15" stroke-dasharray="1.1 2.6"/><circle cx="631.00" cy="252.20" r="5.3" fill="#DAE3F3" stroke="#1a1a1a" stroke-width="1" stroke-dasharray="2.2 0.7"/><circle cx="712.12" cy="252.20" r="5.3" fill="#DAE3F3" stroke="#1a1a1a" stroke-width="1" stroke-dasharray="2.2 0.7"/><circle cx="631.00" cy="273.00" r="5.3" fill="#DAE3F3" stroke="#1a1a1a" stroke-width="1" stroke-dasharray="2.2 0.7"/><circle cx="712.12" cy="273.00" r="5.3" fill="#DAE3F3" stroke="#1a1a1a" stroke-width="1" stroke-dasharray="2.2 0.7"/><circle cx="631.00" cy="293.80" r="5.3" fill="#DAE3F3" stroke="#1a1a1a" stroke-width="1" stroke-dasharray="2.2 0.7"/><circle cx="712.12" cy="293.80" r="5.3" fill="#DAE3F3" stroke="#1a1a1a" stroke-width="1" stroke-dasharray="2.2 0.7"/><circle cx="658.04" cy="241.80" r="5.3" fill="#FBE5D6" stroke="#1a1a1a" stroke-width="1" stroke-dasharray="2.2 0.7"/><circle cx="685.08" cy="241.80" r="5.3" fill="#FBE5D6" stroke="#1a1a1a" stroke-width="1" stroke-dasharray="2.2 0.7"/><circle cx="658.04" cy="262.60" r="5.3" fill="#FBE5D6" stroke="#1a1a1a" stroke-width="1" stroke-dasharray="2.2 0.7"/><circle cx="685.08" cy="262.60" r="5.3" fill="#FBE5D6" stroke="#1a1a1a" stroke-width="1" stroke-dasharray="2.2 0.7"/><circle cx="658.04" cy="283.40" r="5.3" fill="#FBE5D6" stroke="#1a1a1a" stroke-width="1" stroke-dasharray="2.2 0.7"/><circle cx="685.08" cy="283.40" r="5.3" fill="#FBE5D6" stroke="#1a1a1a" stroke-width="1" stroke-dasharray="2.2 0.7"/><circle cx="658.04" cy="304.20" r="5.3" fill="#FBE5D6" stroke="#1a1a1a" stroke-width="1" stroke-dasharray="2.2 0.7"/><circle cx="685.08" cy="304.20" r="5.3" fill="#FBE5D6" stroke="#1a1a1a" stroke-width="1" stroke-dasharray="2.2 0.7"/></g><g><line x1="906.40" y1="233.70" x2="921.80" y2="223.25" stroke="#333" stroke-width="0.65" stroke-dasharray="1.1 1.1" fill="none"/><path d="M921.80 223.25L920.16 226.18L918.48 223.69Z" fill="#111"/><line x1="906.40" y1="233.70" x2="921.80" y2="244.15" stroke="#333" stroke-width="0.65" stroke-dasharray="1.1 1.1" fill="none"/><path d="M921.80 244.15L918.48 243.71L920.16 241.22Z" fill="#111"/><line x1="906.40" y1="233.70" x2="921.80" y2="265.05" stroke="#333" stroke-width="0.65" stroke-dasharray="1.1 1.1" fill="none"/><path d="M921.80 265.05L919.13 263.02L921.82 261.70Z" fill="#111"/><line x1="906.40" y1="233.70" x2="921.80" y2="285.95" stroke="#333" stroke-width="0.65" stroke-dasharray="1.1 1.1" fill="none"/><path d="M921.80 285.95L919.51 283.50L922.39 282.65Z" fill="#111"/><line x1="906.40" y1="254.60" x2="921.80" y2="223.25" stroke="#333" stroke-width="0.65" stroke-dasharray="1.1 1.1" fill="none"/><path d="M921.80 223.25L921.82 226.60L919.13 225.28Z" fill="#111"/><line x1="906.40" y1="254.60" x2="921.80" y2="244.15" stroke="#333" stroke-width="0.65" stroke-dasharray="1.1 1.1" fill="none"/><path d="M921.80 244.15L920.16 247.08L918.48 244.59Z" fill="#111"/><line x1="906.40" y1="254.60" x2="921.80" y2="265.05" stroke="#333" stroke-width="0.65" stroke-dasharray="1.1 1.1" fill="none"/><path d="M921.80 265.05L918.48 264.61L920.16 262.12Z" fill="#111"/><line x1="906.40" y1="254.60" x2="921.80" y2="285.95" stroke="#333" stroke-width="0.65" stroke-dasharray="1.1 1.1" fill="none"/><path d="M921.80 285.95L919.13 283.92L921.82 282.60Z" fill="#111"/><line x1="906.40" y1="275.50" x2="921.80" y2="223.25" stroke="#333" stroke-width="0.65" stroke-dasharray="1.1 1.1" fill="none"/><path d="M921.80 223.25L922.39 226.55L919.51 225.70Z" fill="#111"/><line x1="906.40" y1="275.50" x2="921.80" y2="244.15" stroke="#333" stroke-width="0.65" stroke-dasharray="1.1 1.1" fill="none"/><path d="M921.80 244.15L921.82 247.50L919.13 246.18Z" fill="#111"/><line x1="906.40" y1="275.50" x2="921.80" y2="265.05" stroke="#333" stroke-width="0.65" stroke-dasharray="1.1 1.1" fill="none"/><path d="M921.80 265.05L920.16 267.98L918.48 265.49Z" fill="#111"/><line x1="906.40" y1="275.50" x2="921.80" y2="285.95" stroke="#333" stroke-width="0.65" stroke-dasharray="1.1 1.1" fill="none"/><path d="M921.80 285.95L918.48 285.51L920.16 283.02Z" fill="#111"/><line x1="958.40" y1="223.25" x2="973.80" y2="233.70" stroke="#333" stroke-width="0.65" stroke-dasharray="1.1 1.1" fill="none"/><path d="M973.80 233.70L970.48 233.26L972.16 230.77Z" fill="#111"/><line x1="958.40" y1="223.25" x2="973.80" y2="254.60" stroke="#333" stroke-width="0.65" stroke-dasharray="1.1 1.1" fill="none"/><path d="M973.80 254.60L971.13 252.57L973.82 251.25Z" fill="#111"/><line x1="958.40" y1="223.25" x2="973.80" y2="275.50" stroke="#333" stroke-width="0.65" stroke-dasharray="1.1 1.1" fill="none"/><path d="M973.80 275.50L971.51 273.05L974.39 272.20Z" fill="#111"/><line x1="958.40" y1="244.15" x2="973.80" y2="233.70" stroke="#333" stroke-width="0.65" stroke-dasharray="1.1 1.1" fill="none"/><path d="M973.80 233.70L972.16 236.63L970.48 234.14Z" fill="#111"/><line x1="958.40" y1="244.15" x2="973.80" y2="254.60" stroke="#333" stroke-width="0.65" stroke-dasharray="1.1 1.1" fill="none"/><path d="M973.80 254.60L970.48 254.16L972.16 251.67Z" fill="#111"/><line x1="958.40" y1="244.15" x2="973.80" y2="275.50" stroke="#333" stroke-width="0.65" stroke-dasharray="1.1 1.1" fill="none"/><path d="M973.80 275.50L971.13 273.47L973.82 272.15Z" fill="#111"/><line x1="958.40" y1="265.05" x2="973.80" y2="233.70" stroke="#333" stroke-width="0.65" stroke-dasharray="1.1 1.1" fill="none"/><path d="M973.80 233.70L973.82 237.05L971.13 235.73Z" fill="#111"/><line x1="958.40" y1="265.05" x2="973.80" y2="254.60" stroke="#333" stroke-width="0.65" stroke-dasharray="1.1 1.1" fill="none"/><path d="M973.80 254.60L972.16 257.53L970.48 255.04Z" fill="#111"/><line x1="958.40" y1="265.05" x2="973.80" y2="275.50" stroke="#333" stroke-width="0.65" stroke-dasharray="1.1 1.1" fill="none"/><path d="M973.80 275.50L970.48 275.06L972.16 272.57Z" fill="#111"/><line x1="958.40" y1="285.95" x2="973.80" y2="233.70" stroke="#333" stroke-width="0.65" stroke-dasharray="1.1 1.1" fill="none"/><path d="M973.80 233.70L974.39 237.00L971.51 236.15Z" fill="#111"/><line x1="958.40" y1="285.95" x2="973.80" y2="254.60" stroke="#333" stroke-width="0.65" stroke-dasharray="1.1 1.1" fill="none"/><path d="M973.80 254.60L973.82 257.95L971.13 256.63Z" fill="#111"/><line x1="958.40" y1="285.95" x2="973.80" y2="275.50" stroke="#333" stroke-width="0.65" stroke-dasharray="1.1 1.1" fill="none"/><path d="M973.80 275.50L972.16 278.43L970.48 275.94Z" fill="#111"/><line x1="933.40" y1="223.25" x2="946.80" y2="223.25" stroke="#8a8a8a" stroke-width="0.7" stroke-dasharray="1 2.6"/><line x1="933.40" y1="244.15" x2="946.80" y2="244.15" stroke="#8a8a8a" stroke-width="0.7" stroke-dasharray="1 2.6"/><line x1="933.40" y1="265.05" x2="946.80" y2="265.05" stroke="#8a8a8a" stroke-width="0.7" stroke-dasharray="1 2.6"/><line x1="933.40" y1="285.95" x2="946.80" y2="285.95" stroke="#8a8a8a" stroke-width="0.7" stroke-dasharray="1 2.6"/><line x1="927.10" y1="228.55" x2="927.10" y2="238.85" stroke="#111" stroke-width="1.15" stroke-dasharray="1.1 2.6"/><line x1="927.10" y1="249.45" x2="927.10" y2="259.75" stroke="#111" stroke-width="1.15" stroke-dasharray="1.1 2.6"/><line x1="927.10" y1="270.35" x2="927.10" y2="280.65" stroke="#111" stroke-width="1.15" stroke-dasharray="1.1 2.6"/><line x1="953.10" y1="228.55" x2="953.10" y2="238.85" stroke="#111" stroke-width="1.15" stroke-dasharray="1.1 2.6"/><line x1="953.10" y1="249.45" x2="953.10" y2="259.75" stroke="#111" stroke-width="1.15" stroke-dasharray="1.1 2.6"/><line x1="953.10" y1="270.35" x2="953.10" y2="280.65" stroke="#111" stroke-width="1.15" stroke-dasharray="1.1 2.6"/><circle cx="901.10" cy="233.70" r="5.3" fill="#EBEEDB" stroke="#1a1a1a" stroke-width="1" stroke-dasharray="2.2 0.7"/><circle cx="979.10" cy="233.70" r="5.3" fill="#EBEEDB" stroke="#1a1a1a" stroke-width="1" stroke-dasharray="2.2 0.7"/><circle cx="901.10" cy="254.60" r="5.3" fill="#EBEEDB" stroke="#1a1a1a" stroke-width="1" stroke-dasharray="2.2 0.7"/><circle cx="979.10" cy="254.60" r="5.3" fill="#EBEEDB" stroke="#1a1a1a" stroke-width="1" stroke-dasharray="2.2 0.7"/><circle cx="901.10" cy="275.50" r="5.3" fill="#EBEEDB" stroke="#1a1a1a" stroke-width="1" stroke-dasharray="2.2 0.7"/><circle cx="979.10" cy="275.50" r="5.3" fill="#EBEEDB" stroke="#1a1a1a" stroke-width="1" stroke-dasharray="2.2 0.7"/><circle cx="927.10" cy="223.25" r="5.3" fill="#D5EFEA" stroke="#1a1a1a" stroke-width="1" stroke-dasharray="2.2 0.7"/><circle cx="953.10" cy="223.25" r="5.3" fill="#D5EFEA" stroke="#1a1a1a" stroke-width="1" stroke-dasharray="2.2 0.7"/><circle cx="927.10" cy="244.15" r="5.3" fill="#D5EFEA" stroke="#1a1a1a" stroke-width="1" stroke-dasharray="2.2 0.7"/><circle cx="953.10" cy="244.15" r="5.3" fill="#D5EFEA" stroke="#1a1a1a" stroke-width="1" stroke-dasharray="2.2 0.7"/><circle cx="927.10" cy="265.05" r="5.3" fill="#D5EFEA" stroke="#1a1a1a" stroke-width="1" stroke-dasharray="2.2 0.7"/><circle cx="953.10" cy="265.05" r="5.3" fill="#D5EFEA" stroke="#1a1a1a" stroke-width="1" stroke-dasharray="2.2 0.7"/><circle cx="927.10" cy="285.95" r="5.3" fill="#D5EFEA" stroke="#1a1a1a" stroke-width="1" stroke-dasharray="2.2 0.7"/><circle cx="953.10" cy="285.95" r="5.3" fill="#D5EFEA" stroke="#1a1a1a" stroke-width="1" stroke-dasharray="2.2 0.7"/></g><g><line x1="1022.70" y1="234.30" x2="1039.40" y2="223.80" stroke="#333" stroke-width="0.65" stroke-dasharray="1.1 1.1" fill="none"/><path d="M1039.40 223.80L1037.66 226.67L1036.06 224.13Z" fill="#111"/><line x1="1022.70" y1="234.30" x2="1039.40" y2="244.80" stroke="#333" stroke-width="0.65" stroke-dasharray="1.1 1.1" fill="none"/><path d="M1039.40 244.80L1036.06 244.47L1037.66 241.93Z" fill="#111"/><line x1="1022.70" y1="234.30" x2="1039.40" y2="265.80" stroke="#333" stroke-width="0.65" stroke-dasharray="1.1 1.1" fill="none"/><path d="M1039.40 265.80L1036.67 263.85L1039.32 262.45Z" fill="#111"/><line x1="1022.70" y1="234.30" x2="1039.40" y2="286.80" stroke="#333" stroke-width="0.65" stroke-dasharray="1.1 1.1" fill="none"/><path d="M1039.40 286.80L1037.06 284.40L1039.92 283.49Z" fill="#111"/><line x1="1022.70" y1="255.30" x2="1039.40" y2="223.80" stroke="#333" stroke-width="0.65" stroke-dasharray="1.1 1.1" fill="none"/><path d="M1039.40 223.80L1039.32 227.15L1036.67 225.75Z" fill="#111"/><line x1="1022.70" y1="255.30" x2="1039.40" y2="244.80" stroke="#333" stroke-width="0.65" stroke-dasharray="1.1 1.1" fill="none"/><path d="M1039.40 244.80L1037.66 247.67L1036.06 245.13Z" fill="#111"/><line x1="1022.70" y1="255.30" x2="1039.40" y2="265.80" stroke="#333" stroke-width="0.65" stroke-dasharray="1.1 1.1" fill="none"/><path d="M1039.40 265.80L1036.06 265.47L1037.66 262.93Z" fill="#111"/><line x1="1022.70" y1="255.30" x2="1039.40" y2="286.80" stroke="#333" stroke-width="0.65" stroke-dasharray="1.1 1.1" fill="none"/><path d="M1039.40 286.80L1036.67 284.85L1039.32 283.45Z" fill="#111"/><line x1="1022.70" y1="276.30" x2="1039.40" y2="223.80" stroke="#333" stroke-width="0.65" stroke-dasharray="1.1 1.1" fill="none"/><path d="M1039.40 223.80L1039.92 227.11L1037.06 226.20Z" fill="#111"/><line x1="1022.70" y1="276.30" x2="1039.40" y2="244.80" stroke="#333" stroke-width="0.65" stroke-dasharray="1.1 1.1" fill="none"/><path d="M1039.40 244.80L1039.32 248.15L1036.67 246.75Z" fill="#111"/><line x1="1022.70" y1="276.30" x2="1039.40" y2="265.80" stroke="#333" stroke-width="0.65" stroke-dasharray="1.1 1.1" fill="none"/><path d="M1039.40 265.80L1037.66 268.67L1036.06 266.13Z" fill="#111"/><line x1="1022.70" y1="276.30" x2="1039.40" y2="286.80" stroke="#333" stroke-width="0.65" stroke-dasharray="1.1 1.1" fill="none"/><path d="M1039.40 286.80L1036.06 286.47L1037.66 283.93Z" fill="#111"/><line x1="1077.30" y1="223.80" x2="1094.00" y2="234.30" stroke="#333" stroke-width="0.65" stroke-dasharray="1.1 1.1" fill="none"/><path d="M1094.00 234.30L1090.66 233.97L1092.26 231.43Z" fill="#111"/><line x1="1077.30" y1="223.80" x2="1094.00" y2="255.30" stroke="#333" stroke-width="0.65" stroke-dasharray="1.1 1.1" fill="none"/><path d="M1094.00 255.30L1091.27 253.35L1093.92 251.95Z" fill="#111"/><line x1="1077.30" y1="223.80" x2="1094.00" y2="276.30" stroke="#333" stroke-width="0.65" stroke-dasharray="1.1 1.1" fill="none"/><path d="M1094.00 276.30L1091.66 273.90L1094.52 272.99Z" fill="#111"/><line x1="1077.30" y1="244.80" x2="1094.00" y2="234.30" stroke="#333" stroke-width="0.65" stroke-dasharray="1.1 1.1" fill="none"/><path d="M1094.00 234.30L1092.26 237.17L1090.66 234.63Z" fill="#111"/><line x1="1077.30" y1="244.80" x2="1094.00" y2="255.30" stroke="#333" stroke-width="0.65" stroke-dasharray="1.1 1.1" fill="none"/><path d="M1094.00 255.30L1090.66 254.97L1092.26 252.43Z" fill="#111"/><line x1="1077.30" y1="244.80" x2="1094.00" y2="276.30" stroke="#333" stroke-width="0.65" stroke-dasharray="1.1 1.1" fill="none"/><path d="M1094.00 276.30L1091.27 274.35L1093.92 272.95Z" fill="#111"/><line x1="1077.30" y1="265.80" x2="1094.00" y2="234.30" stroke="#333" stroke-width="0.65" stroke-dasharray="1.1 1.1" fill="none"/><path d="M1094.00 234.30L1093.92 237.65L1091.27 236.25Z" fill="#111"/><line x1="1077.30" y1="265.80" x2="1094.00" y2="255.30" stroke="#333" stroke-width="0.65" stroke-dasharray="1.1 1.1" fill="none"/><path d="M1094.00 255.30L1092.26 258.17L1090.66 255.63Z" fill="#111"/><line x1="1077.30" y1="265.80" x2="1094.00" y2="276.30" stroke="#333" stroke-width="0.65" stroke-dasharray="1.1 1.1" fill="none"/><path d="M1094.00 276.30L1090.66 275.97L1092.26 273.43Z" fill="#111"/><line x1="1077.30" y1="286.80" x2="1094.00" y2="234.30" stroke="#333" stroke-width="0.65" stroke-dasharray="1.1 1.1" fill="none"/><path d="M1094.00 234.30L1094.52 237.61L1091.66 236.70Z" fill="#111"/><line x1="1077.30" y1="286.80" x2="1094.00" y2="255.30" stroke="#333" stroke-width="0.65" stroke-dasharray="1.1 1.1" fill="none"/><path d="M1094.00 255.30L1093.92 258.65L1091.27 257.25Z" fill="#111"/><line x1="1077.30" y1="286.80" x2="1094.00" y2="276.30" stroke="#333" stroke-width="0.65" stroke-dasharray="1.1 1.1" fill="none"/><path d="M1094.00 276.30L1092.26 279.17L1090.66 276.63Z" fill="#111"/><line x1="1051.00" y1="223.80" x2="1065.70" y2="223.80" stroke="#8a8a8a" stroke-width="0.7" stroke-dasharray="1 2.6"/><line x1="1051.00" y1="244.80" x2="1065.70" y2="244.80" stroke="#8a8a8a" stroke-width="0.7" stroke-dasharray="1 2.6"/><line x1="1051.00" y1="265.80" x2="1065.70" y2="265.80" stroke="#8a8a8a" stroke-width="0.7" stroke-dasharray="1 2.6"/><line x1="1051.00" y1="286.80" x2="1065.70" y2="286.80" stroke="#8a8a8a" stroke-width="0.7" stroke-dasharray="1 2.6"/><line x1="1044.70" y1="229.10" x2="1044.70" y2="239.50" stroke="#111" stroke-width="1.15" stroke-dasharray="1.1 2.6"/><line x1="1044.70" y1="250.10" x2="1044.70" y2="260.50" stroke="#111" stroke-width="1.15" stroke-dasharray="1.1 2.6"/><line x1="1044.70" y1="271.10" x2="1044.70" y2="281.50" stroke="#111" stroke-width="1.15" stroke-dasharray="1.1 2.6"/><line x1="1072.00" y1="229.10" x2="1072.00" y2="239.50" stroke="#111" stroke-width="1.15" stroke-dasharray="1.1 2.6"/><line x1="1072.00" y1="250.10" x2="1072.00" y2="260.50" stroke="#111" stroke-width="1.15" stroke-dasharray="1.1 2.6"/><line x1="1072.00" y1="271.10" x2="1072.00" y2="281.50" stroke="#111" stroke-width="1.15" stroke-dasharray="1.1 2.6"/><circle cx="1017.40" cy="234.30" r="5.3" fill="#BDDDF5" stroke="#1a1a1a" stroke-width="1" stroke-dasharray="2.2 0.7"/><circle cx="1099.30" cy="234.30" r="5.3" fill="#BDDDF5" stroke="#1a1a1a" stroke-width="1" stroke-dasharray="2.2 0.7"/><circle cx="1017.40" cy="255.30" r="5.3" fill="#BDDDF5" stroke="#1a1a1a" stroke-width="1" stroke-dasharray="2.2 0.7"/><circle cx="1099.30" cy="255.30" r="5.3" fill="#BDDDF5" stroke="#1a1a1a" stroke-width="1" stroke-dasharray="2.2 0.7"/><circle cx="1017.40" cy="276.30" r="5.3" fill="#BDDDF5" stroke="#1a1a1a" stroke-width="1" stroke-dasharray="2.2 0.7"/><circle cx="1099.30" cy="276.30" r="5.3" fill="#BDDDF5" stroke="#1a1a1a" stroke-width="1" stroke-dasharray="2.2 0.7"/><circle cx="1044.70" cy="223.80" r="5.3" fill="#E3E3F5" stroke="#1a1a1a" stroke-width="1" stroke-dasharray="2.2 0.7"/><circle cx="1072.00" cy="223.80" r="5.3" fill="#E3E3F5" stroke="#1a1a1a" stroke-width="1" stroke-dasharray="2.2 0.7"/><circle cx="1044.70" cy="244.80" r="5.3" fill="#E3E3F5" stroke="#1a1a1a" stroke-width="1" stroke-dasharray="2.2 0.7"/><circle cx="1072.00" cy="244.80" r="5.3" fill="#E3E3F5" stroke="#1a1a1a" stroke-width="1" stroke-dasharray="2.2 0.7"/><circle cx="1044.70" cy="265.80" r="5.3" fill="#E3E3F5" stroke="#1a1a1a" stroke-width="1" stroke-dasharray="2.2 0.7"/><circle cx="1072.00" cy="265.80" r="5.3" fill="#E3E3F5" stroke="#1a1a1a" stroke-width="1" stroke-dasharray="2.2 0.7"/><circle cx="1044.70" cy="286.80" r="5.3" fill="#E3E3F5" stroke="#1a1a1a" stroke-width="1" stroke-dasharray="2.2 0.7"/><circle cx="1072.00" cy="286.80" r="5.3" fill="#E3E3F5" stroke="#1a1a1a" stroke-width="1" stroke-dasharray="2.2 0.7"/></g><path d="M39.6 415.5 L39.6 471.2 A153.85 9.6 0 0 0 347.3 471.2 L347.3 415.5" fill="#E7E6E6" stroke="#2F5597" stroke-width="1.7"/><ellipse cx="193.45" cy="415.5" rx="153.85" ry="9.6" fill="#F2F2F2" stroke="#2F5597" stroke-width="1.7"/><defs>
<linearGradient id="beam1" x1="0" y1="0" x2="0" y2="1"><stop offset="0" stop-color="#4f74c8"/><stop offset="1" stop-color="#ffffff"/></linearGradient>
<linearGradient id="beam2" x1="0" y1="0" x2="1" y2="0"><stop offset="0" stop-color="#4f74c8"/><stop offset="1" stop-color="#ffffff"/></linearGradient>
<radialGradient id="dish" cx="0.4" cy="0.4" r="0.6"><stop offset="0" stop-color="#e4e4e4"/><stop offset="1" stop-color="#9a9a9a"/></radialGradient>
<filter id="tex" x="0" y="0" width="1" height="1"><feTurbulence type="fractalNoise" baseFrequency="0.6" numOctaves="2" seed="3" result="n"/><feColorMatrix in="n" type="matrix" values="0 0 0 0 0  0 0 0 0 0  0 0 0 0 0  0 0 0 0.35 0" result="na"/><feComposite in="na" in2="SourceGraphic" operator="in" result="nm"/><feBlend in="SourceGraphic" in2="nm" mode="multiply"/></filter>
<clipPath id="mapclip"><polygon points="531.4,431.6 718.3,431.6 672.2,496.5 485.3,496.5"/></clipPath>
</defs><rect x="441.8" y="359.2" width="332.6" height="185.3" rx="35" ry="35" fill="#DAE3F3" stroke="#c4c2c0" stroke-width="1.1" stroke-dasharray="4.2 3"/><polygon points="531.4,432 718.3,432 670.3,500.6 483,500.6" fill="#282a3b"/><clipPath id="mapclip2"><polygon points="531.4,432 718.3,432 670.3,500.6 483,500.6"/></clipPath><g clip-path="url(#mapclip2)"><g filter="url(#tex)"><path d="M546.5 448 L551 444.5 L560 444 L569 442.5 L578 443 L586 444 L581 449 L572 452.8 L565 454.8 L558 455 L553 457 L560 463 L557 462 L550 457 L548.5 453 Z" fill="#5e7a3a"/><path d="M546.5 448 L551 444.5 L560 444 L563 450 L560 456 L553 457 L549 454 Z" fill="#a67d48"/><path d="M558.3 466.8 L565 464.5 L571.7 463.9 L580 468.7 L574 473 L566 477 L561 480.2 L554 484 L547.7 487 L552 480 L556.3 474.5 Z" fill="#587838"/><path d="M580 468.7 L574 473 L566 477 L561 480.2 L554 484 L547.7 487 L552 480 L556 475 L560 475 L570 471 Z" fill="#b88d55"/><path d="M606 448 L612 444 L622 441 L634 439 L642 440 L646 444 L636 448 L624 450 L612 451 Z" fill="#577235"/><path d="M634 442 L652 442 L672 443 L690 444 L697 447 L690 450 L682 454 L672 456 L662 459 L652 462 L644 462 L638 456 L632 452 Z" fill="#5b7437"/><path d="M636 447 L656 446 L676 447 L688 448 L680 452 L666 454 L652 456 L642 455 Z" fill="#ae8c55"/><path d="M654 448 L664 447 L668 450 L660 452 Z" fill="#cdb48a"/><path d="M596.3 461 L600 456 L607.7 452 L618 453.7 L625.5 455 L625.5 461 Z" fill="#cfa065"/><path d="M596 460.5 L625.5 460.5 L624 464 L614 469 L606 472.5 L600 468 Z" fill="#527a35"/><path d="M606 469 L616 465 L623 462 L630 462.2 L624 467 L614 473 L601 479.3 L601.5 473 Z" fill="#c08f58"/><path d="M627 453 L637 452 L639 458 L632 461.5 L627 461 Z" fill="#d0a468"/><path d="M617 476.5 L622.5 471 L623.5 472.5 L618.5 477.5 Z" fill="#b68654"/><path d="M650 463 L660 462 L670 465 L664 468 L654 467 Z" fill="#4a6c32"/><path d="M672 468 L678 466 L676 470 Z" fill="#4a6c32"/><path d="M652 474 Q656 471 662 471 L669 471 L672 475 L668 480 L660 480 L654 479 Z" fill="#ad7b4a"/></g><path d="M536 436.5 L548 435.5 L562 436 L576 435.5 L590 436 L598 439 L592 442.5 L584 443 L572 443.5 L560 444.5 L550 445 L541 442.5 L535 439 Z" fill="#cddbe6"/><path d="M542 437.5 L552 436.5 L560 438.5 L552 440 L545 440 Z M560 439 L570 437 L580 438.5 L572 441 L563 441.5 Z M576 440 L586 439 L590 441.5 L580 442.5 Z" fill="#f2f6f9"/><path d="M540 440 L548 441 L554 444.5 L546 444 Z" fill="#7fa3cf"/><path d="M590 433.5 L613 433.5 L611 437 L606 440 L600 444 L594 443 L591 438 Z" fill="#f3f6f9"/><path d="M650 438.5 L666 437 L688 436 L714 435 L710 439 L698 442 L680 443.5 L664 442.5 L654 441 Z" fill="#cfdce7"/><path d="M662 438.5 L678 437.5 L694 437.5 L686 440.5 L670 441 Z" fill="#eef3f7"/><path d="M668 440 L682 439.5 L686 441.5 L674 442.5 Z" fill="#86aad0"/><path d="M480 500.6 L486 495 L520 494.5 L546 494.8 L550 492 L553 494.5 L600 493.2 L640 492.6 L668 492.5 L672 500.6 Z" fill="#e8edf1"/></g><path d="M506.8 401.6 Q600 360 722.5 376.7" fill="none" stroke="#2a2a2a" stroke-width="0.9" stroke-dasharray="1.6 2.6"/><path d="M501.2 423.2 Q600 385 712 399.5" fill="none" stroke="#2a2a2a" stroke-width="0.9" stroke-dasharray="1.6 2.6"/><path d="M494 446.5 Q590 406 705.7 421" fill="none" stroke="#2a2a2a" stroke-width="0.9" stroke-dasharray="1.6 2.6"/><polygon points="550.8,392.8 587.7,431.2 577.3,436.5" fill="url(#beam1)" opacity="0.95"/><polygon points="679.6,379.2 673.8,436 664,436" fill="url(#beam1)" opacity="0.95"/><polygon points="658.4,421.6 648,441.7 638.4,436" fill="url(#beam1)" opacity="0.95"/><polygon points="538,436 559,437 557,447" fill="url(#beam2)" opacity="0.9"/><ellipse cx="562.6" cy="445.4" rx="5.2" ry="4.9399999999999995" fill="url(#dish)" stroke="#777" stroke-width="0.5"/><path d="M561.6 446.4 L564.1 452.09999999999997 L560.1 452.09999999999997 Z" fill="#555"/><rect x="559.1" y="452.09999999999997" width="6" height="1" fill="#8a8a8a"/><ellipse cx="584.8" cy="438.4" rx="4.4" ry="4.18" fill="url(#dish)" stroke="#777" stroke-width="0.5"/><path d="M583.8 439.4 L586.3 444.29999999999995 L582.3 444.29999999999995 Z" fill="#555"/><rect x="581.3" y="444.29999999999995" width="6" height="1" fill="#8a8a8a"/><ellipse cx="637.4" cy="441.7" rx="4.6" ry="4.369999999999999" fill="url(#dish)" stroke="#777" stroke-width="0.5"/><path d="M636.4 442.7 L638.9 447.8 L634.9 447.8 Z" fill="#555"/><rect x="633.9" y="447.8" width="6" height="1" fill="#8a8a8a"/><ellipse cx="666" cy="445" rx="4.3" ry="4.085" fill="url(#dish)" stroke="#777" stroke-width="0.5"/><path d="M665 446 L667.5 450.8 L663.5 450.8 Z" fill="#555"/><rect x="662.5" y="450.8" width="6" height="1" fill="#8a8a8a"/><line x1="529.2" y1="430.4" x2="536.39" y2="416.02" stroke="#f01818" stroke-width="1.1"/><path d="M538 412.8L537.91 416.78L534.87 415.26Z" fill="#f01818"/><line x1="545.2" y1="407.2" x2="563.32" y2="402.50" stroke="#f01818" stroke-width="1.1"/><path d="M566.8 401.6L563.74 404.15L562.89 400.86Z" fill="#f01818"/><line x1="578" y1="399.2" x2="595.33" y2="396.96" stroke="#f01818" stroke-width="1.1"/><path d="M598.9 396.5L595.55 398.65L595.11 395.28Z" fill="#f01818"/><line x1="612" y1="394.4" x2="627.61" y2="393.51" stroke="#f01818" stroke-width="1.1"/><path d="M631.2 393.3L627.70 395.20L627.51 391.81Z" fill="#f01818"/><line x1="642" y1="388" x2="645.39" y2="379.35" stroke="#f01818" stroke-width="1.1"/><path d="M646.7 376L646.97 379.97L643.80 378.73Z" fill="#f01818"/><line x1="655.2" y1="371.2" x2="670.40" y2="371.85" stroke="#f01818" stroke-width="1.1"/><path d="M674 372L670.33 373.55L670.48 370.15Z" fill="#f01818"/><line x1="574" y1="380.8" x2="560.74" y2="383.33" stroke="#1aa0e8" stroke-width="1.1"/><path d="M557.2 384L560.42 381.66L561.05 385.00Z" fill="#1aa0e8"/><line x1="608.5" y1="375.2" x2="593.57" y2="377.14" stroke="#1aa0e8" stroke-width="1.1"/><path d="M590 377.6L593.35 375.45L593.79 378.82Z" fill="#1aa0e8"/><line x1="594.9" y1="411" x2="601.72" y2="400.61" stroke="#1aa0e8" stroke-width="1.1"/><path d="M603.7 397.6L603.14 401.54L600.30 399.68Z" fill="#1aa0e8"/><line x1="606" y1="391.2" x2="612.09" y2="381.45" stroke="#1aa0e8" stroke-width="1.1"/><path d="M614 378.4L613.53 382.35L610.65 380.55Z" fill="#1aa0e8"/><line x1="620.8" y1="414.4" x2="609.20" y2="415.01" stroke="#1aa0e8" stroke-width="1.1"/><path d="M605.6 415.2L609.11 413.31L609.28 416.71Z" fill="#1aa0e8"/><line x1="653.6" y1="415.2" x2="639.59" y2="413.93" stroke="#1aa0e8" stroke-width="1.1"/><path d="M636 413.6L639.74 412.23L639.43 415.62Z" fill="#1aa0e8"/><g transform="translate(515.6,396.8) rotate(12.0)" opacity="0.92"><path d="M-6.8 -0.9 L-2 -1.3 L-1.3 -2.4 L1.5 -2.3 L2 -1.1 L6.8 -0.8 L6.9 1.1 L2 1.2 L1.4 2.4 L-1.4 2.3 L-2 1.1 L-6.8 1.1 Z" fill="#8c8274"/></g><g transform="translate(547.6,384.8) rotate(15.0)" opacity="0.92"><path d="M-6.8 -0.9 L-2 -1.3 L-1.3 -2.4 L1.5 -2.3 L2 -1.1 L6.8 -0.8 L6.9 1.1 L2 1.2 L1.4 2.4 L-1.4 2.3 L-2 1.1 L-6.8 1.1 Z" fill="#8c8274"/></g><g transform="translate(583.7,378.4) rotate(18.0)" opacity="0.92"><path d="M-6.8 -0.9 L-2 -1.3 L-1.3 -2.4 L1.5 -2.3 L2 -1.1 L6.8 -0.8 L6.9 1.1 L2 1.2 L1.4 2.4 L-1.4 2.3 L-2 1.1 L-6.8 1.1 Z" fill="#8c8274"/></g><g transform="translate(616,372.8) rotate(20.0)" opacity="0.92"><path d="M-6.8 -0.9 L-2 -1.3 L-1.3 -2.4 L1.5 -2.3 L2 -1.1 L6.8 -0.8 L6.9 1.1 L2 1.2 L1.4 2.4 L-1.4 2.3 L-2 1.1 L-6.8 1.1 Z" fill="#8c8274"/></g><g transform="translate(648.8,371.5) rotate(23.0)" opacity="0.92"><path d="M-6.8 -0.9 L-2 -1.3 L-1.3 -2.4 L1.5 -2.3 L2 -1.1 L6.8 -0.8 L6.9 1.1 L2 1.2 L1.4 2.4 L-1.4 2.3 L-2 1.1 L-6.8 1.1 Z" fill="#8c8274"/></g><g transform="translate(680.9,371.5) rotate(25.0)" opacity="0.92"><path d="M-6.8 -0.9 L-2 -1.3 L-1.3 -2.4 L1.5 -2.3 L2 -1.1 L6.8 -0.8 L6.9 1.1 L2 1.2 L1.4 2.4 L-1.4 2.3 L-2 1.1 L-6.8 1.1 Z" fill="#8c8274"/></g><g transform="translate(716.9,375.5) rotate(27.0)" opacity="0.92"><path d="M-6.8 -0.9 L-2 -1.3 L-1.3 -2.4 L1.5 -2.3 L2 -1.1 L6.8 -0.8 L6.9 1.1 L2 1.2 L1.4 2.4 L-1.4 2.3 L-2 1.1 L-6.8 1.1 Z" fill="#8c8274"/></g><g transform="translate(537.2,408.8) rotate(13.0)" opacity="0.92"><path d="M-6.8 -0.9 L-2 -1.3 L-1.3 -2.4 L1.5 -2.3 L2 -1.1 L6.8 -0.8 L6.9 1.1 L2 1.2 L1.4 2.4 L-1.4 2.3 L-2 1.1 L-6.8 1.1 Z" fill="#8c8274"/></g><g transform="translate(573.3,401.6) rotate(16.0)" opacity="0.92"><path d="M-6.8 -0.9 L-2 -1.3 L-1.3 -2.4 L1.5 -2.3 L2 -1.1 L6.8 -0.8 L6.9 1.1 L2 1.2 L1.4 2.4 L-1.4 2.3 L-2 1.1 L-6.8 1.1 Z" fill="#8c8274"/></g><g transform="translate(606.4,394.9) rotate(19.0)" opacity="0.92"><path d="M-6.8 -0.9 L-2 -1.3 L-1.3 -2.4 L1.5 -2.3 L2 -1.1 L6.8 -0.8 L6.9 1.1 L2 1.2 L1.4 2.4 L-1.4 2.3 L-2 1.1 L-6.8 1.1 Z" fill="#8c8274"/></g><g transform="translate(640.8,392.8) rotate(22.0)" opacity="0.92"><path d="M-6.8 -0.9 L-2 -1.3 L-1.3 -2.4 L1.5 -2.3 L2 -1.1 L6.8 -0.8 L6.9 1.1 L2 1.2 L1.4 2.4 L-1.4 2.3 L-2 1.1 L-6.8 1.1 Z" fill="#8c8274"/></g><g transform="translate(671.2,393.6) rotate(24.5)" opacity="0.92"><path d="M-6.8 -0.9 L-2 -1.3 L-1.3 -2.4 L1.5 -2.3 L2 -1.1 L6.8 -0.8 L6.9 1.1 L2 1.2 L1.4 2.4 L-1.4 2.3 L-2 1.1 L-6.8 1.1 Z" fill="#8c8274"/></g><g transform="translate(707.3,398) rotate(26.5)" opacity="0.92"><path d="M-6.8 -0.9 L-2 -1.3 L-1.3 -2.4 L1.5 -2.3 L2 -1.1 L6.8 -0.8 L6.9 1.1 L2 1.2 L1.4 2.4 L-1.4 2.3 L-2 1.1 L-6.8 1.1 Z" fill="#8c8274"/></g><g transform="translate(528.4,433.6) rotate(12.0)" opacity="0.92"><path d="M-6.8 -0.9 L-2 -1.3 L-1.3 -2.4 L1.5 -2.3 L2 -1.1 L6.8 -0.8 L6.9 1.1 L2 1.2 L1.4 2.4 L-1.4 2.3 L-2 1.1 L-6.8 1.1 Z" fill="#8c8274"/></g><g transform="translate(563.6,424) rotate(15.0)" opacity="0.92"><path d="M-6.8 -0.9 L-2 -1.3 L-1.3 -2.4 L1.5 -2.3 L2 -1.1 L6.8 -0.8 L6.9 1.1 L2 1.2 L1.4 2.4 L-1.4 2.3 L-2 1.1 L-6.8 1.1 Z" fill="#8c8274"/></g><g transform="translate(596.5,416.8) rotate(18.0)" opacity="0.92"><path d="M-6.8 -0.9 L-2 -1.3 L-1.3 -2.4 L1.5 -2.3 L2 -1.1 L6.8 -0.8 L6.9 1.1 L2 1.2 L1.4 2.4 L-1.4 2.3 L-2 1.1 L-6.8 1.1 Z" fill="#8c8274"/></g><g transform="translate(629.6,416) rotate(21.0)" opacity="0.92"><path d="M-6.8 -0.9 L-2 -1.3 L-1.3 -2.4 L1.5 -2.3 L2 -1.1 L6.8 -0.8 L6.9 1.1 L2 1.2 L1.4 2.4 L-1.4 2.3 L-2 1.1 L-6.8 1.1 Z" fill="#8c8274"/></g><g transform="translate(661.6,416) rotate(24.0)" opacity="0.92"><path d="M-6.8 -0.9 L-2 -1.3 L-1.3 -2.4 L1.5 -2.3 L2 -1.1 L6.8 -0.8 L6.9 1.1 L2 1.2 L1.4 2.4 L-1.4 2.3 L-2 1.1 L-6.8 1.1 Z" fill="#8c8274"/></g><g transform="translate(697.7,420) rotate(26.5)" opacity="0.92"><path d="M-6.8 -0.9 L-2 -1.3 L-1.3 -2.4 L1.5 -2.3 L2 -1.1 L6.8 -0.8 L6.9 1.1 L2 1.2 L1.4 2.4 L-1.4 2.3 L-2 1.1 L-6.8 1.1 Z" fill="#8c8274"/></g></svg><div class="t" style="left:320.75px;width:600px;text-align:center;top:503.92px;font-size:27.5px;">Environment</div><svg class="s" width="1269" height="562" style="left:0;top:0"><text transform="translate(49.33 452.70) scale(1.065 1)" style="font-family:'Liberation Serif',serif;font-size:24.3px;font-weight:normal;font-style:normal" fill="#111">(</text><text transform="translate(56.96 452.90) scale(1.180 1)" style="font-family:'Liberation Serif',serif;font-size:21.0px;font-weight:bold;font-style:normal" fill="#111">o</text><text transform="translate(69.05 455.90) scale(1.500 1)" style="font-family:'Liberation Serif',serif;font-size:10.3px;font-weight:normal;font-style:italic" fill="#111">t</text><text transform="translate(76.03 454.50) scale(1.455 1)" style="font-family:'Liberation Serif',serif;font-size:15.2px;font-weight:normal;font-style:normal" fill="#111">,</text><text transform="translate(86.08 452.90) scale(1.032 1)" style="font-family:'Liberation Serif',serif;font-size:21.1px;font-weight:bold;font-style:normal" fill="#111">a</text><text transform="translate(98.23 455.90) scale(1.346 1)" style="font-family:'Liberation Serif',serif;font-size:10.3px;font-weight:normal;font-style:italic" fill="#111">t</text><text transform="translate(104.62 454.50) scale(1.636 1)" style="font-family:'Liberation Serif',serif;font-size:15.2px;font-weight:normal;font-style:normal" fill="#111">,</text><text transform="translate(114.78 452.90) scale(1.394 1)" style="font-family:'Liberation Serif',serif;font-size:18.9px;font-weight:normal;font-style:italic" fill="#111">r</text><text transform="translate(124.05 455.90) scale(1.500 1)" style="font-family:'Liberation Serif',serif;font-size:10.3px;font-weight:normal;font-style:italic" fill="#111">t</text><text transform="translate(130.30 454.50) scale(1.500 1)" style="font-family:'Liberation Serif',serif;font-size:15.2px;font-weight:normal;font-style:normal" fill="#111">,</text><text transform="translate(140.06 452.80) scale(1.170 1)" style="font-family:'Liberation Serif',serif;font-size:20.8px;font-weight:bold;font-style:normal" fill="#111">o</text><text transform="translate(153.18 455.90) scale(1.231 1)" style="font-family:'Liberation Serif',serif;font-size:10.5px;font-weight:normal;font-style:italic" fill="#111">t</text><text transform="translate(159.19 458.60) scale(1.011 1)" style="font-family:'Liberation Serif',serif;font-size:18.9px;font-weight:normal;font-style:normal" fill="#111">+</text><text transform="translate(170.42 456.10) scale(1.256 1)" style="font-family:'Liberation Serif',serif;font-size:12.3px;font-weight:normal;font-style:normal" fill="#111">1</text><text transform="translate(179.45 454.50) scale(1.591 1)" style="font-family:'Liberation Serif',serif;font-size:15.2px;font-weight:normal;font-style:normal" fill="#111">,</text><text transform="translate(189.64 452.70) scale(1.281 1)" style="font-family:'Liberation Serif',serif;font-size:18.5px;font-weight:normal;font-style:italic" fill="#111">s</text><text transform="translate(199.30 455.90) scale(1.192 1)" style="font-family:'Liberation Serif',serif;font-size:10.5px;font-weight:normal;font-style:italic" fill="#111">t</text><text transform="translate(206.24 454.50) scale(1.273 1)" style="font-family:'Liberation Serif',serif;font-size:15.2px;font-weight:normal;font-style:normal" fill="#111">,</text><text transform="translate(215.58 452.40) scale(1.040 1)" style="font-family:'Liberation Serif',serif;font-size:20.4px;font-weight:normal;font-style:normal" fill="#111">log</text><text transform="translate(244.68 452.70) scale(1.176 1)" style="font-family:'Liberation Serif',serif;font-size:19.6px;font-weight:normal;font-style:italic" fill="#111">π</text><text transform="translate(257.28 455.90) scale(1.231 1)" style="font-family:'Liberation Serif',serif;font-size:10.5px;font-weight:normal;font-style:italic" fill="#111">t</text><text transform="translate(263.73 454.50) scale(1.455 1)" style="font-family:'Liberation Serif',serif;font-size:15.2px;font-weight:normal;font-style:normal" fill="#111">,</text><text transform="translate(274.52 453.30) scale(0.903 1)" style="font-family:'Liberation Serif',serif;font-size:22.2px;font-weight:normal;font-style:italic" fill="#111">V</text><text transform="translate(285.43 454.80) scale(1.175 1)" style="font-family:'Liberation Serif',serif;font-size:12.8px;font-weight:normal;font-style:italic" fill="#111">φ</text><text transform="translate(296.16 452.30) scale(1.143 1)" style="font-family:'Liberation Serif',serif;font-size:21.8px;font-weight:normal;font-style:normal" fill="#111">(</text><text transform="translate(305.54 452.70) scale(1.293 1)" style="font-family:'Liberation Serif',serif;font-size:16.8px;font-weight:normal;font-style:italic" fill="#111">s</text><text transform="translate(313.65 455.30) scale(1.625 1)" style="font-family:'Liberation Serif',serif;font-size:9.4px;font-weight:normal;font-style:italic" fill="#111">t</text><text transform="translate(318.84 452.20) scale(1.089 1)" style="font-family:'Liberation Serif',serif;font-size:21.8px;font-weight:normal;font-style:normal" fill="#111">)</text><text transform="translate(328.09 452.70) scale(1.016 1)" style="font-family:'Liberation Serif',serif;font-size:24.3px;font-weight:normal;font-style:normal" fill="#111">)</text><text transform="translate(866.86 483.40) scale(1.304 1)" style="font-family:'Liberation Serif',serif;font-size:21.6px;font-weight:bold;font-style:normal" fill="#111">o</text><text transform="translate(881.67 487.50) scale(1.615 1)" style="font-family:'Liberation Serif',serif;font-size:13.3px;font-weight:normal;font-style:italic" fill="#111">i</text><text transform="translate(887.88 486.80) scale(0.885 1)" style="font-family:'Liberation Serif',serif;font-size:17.5px;font-weight:normal;font-style:normal" fill="#111">,</text><text transform="translate(892.87 487.40) scale(1.222 1)" style="font-family:'Liberation Serif',serif;font-size:14.0px;font-weight:normal;font-style:italic" fill="#111">t</text><rect x="915.2" y="473.6" width="17.6" height="1.3" fill="#333"/><rect x="915.2" y="478.5" width="17.6" height="1.3" fill="#333"/><path d="M958.2 458.8 H952.8 V494.2 H958.2" fill="none" stroke="#111" stroke-width="1.2"/><path d="M1136.5 458.8 H1142.4 V494.2 H1136.5" fill="none" stroke="#111" stroke-width="1.2"/><text transform="translate(964.01 483.60) scale(1.129 1)" style="font-family:'Liberation Serif',serif;font-size:21.1px;font-weight:normal;font-style:italic" fill="#111">q</text><text transform="translate(977.82 473.60) scale(1.294 1)" style="font-family:'Liberation Serif',serif;font-size:13.4px;font-weight:normal;font-style:italic" fill="#111">t</text><text transform="translate(976.15 487.40) scale(1.268 1)" style="font-family:'Liberation Serif',serif;font-size:13.0px;font-weight:normal;font-style:italic" fill="#111">v</text><text transform="translate(982.60 490.30) scale(0.897 1)" style="font-family:'Liberation Serif',serif;font-size:11.1px;font-weight:normal;font-style:normal" fill="#111">1</text><text transform="translate(990.62 484.70) scale(0.844 1)" style="font-family:'Liberation Serif',serif;font-size:21.4px;font-weight:normal;font-style:normal" fill="#111">,</text><text transform="translate(1005.78 483.60) scale(1.022 1)" style="font-family:'Liberation Serif',serif;font-size:21.1px;font-weight:normal;font-style:italic" fill="#111">q</text><text transform="translate(1019.87 473.60) scale(1.387 1)" style="font-family:'Liberation Serif',serif;font-size:12.6px;font-weight:normal;font-style:italic" fill="#111">t</text><text transform="translate(1017.45 487.40) scale(1.268 1)" style="font-family:'Liberation Serif',serif;font-size:13.0px;font-weight:normal;font-style:italic" fill="#111">v</text><text transform="translate(1024.13 490.30) scale(1.341 1)" style="font-family:'Liberation Serif',serif;font-size:11.0px;font-weight:normal;font-style:normal" fill="#111">2</text><text transform="translate(1033.62 484.70) scale(0.844 1)" style="font-family:'Liberation Serif',serif;font-size:21.4px;font-weight:normal;font-style:normal" fill="#111">,</text><circle cx="1051.9" cy="483.2" r="1.15" fill="#111"/><circle cx="1059.1000000000001" cy="483.2" r="1.15" fill="#111"/><circle cx="1066.3000000000002" cy="483.2" r="1.15" fill="#111"/><text transform="translate(1070.88 484.70) scale(0.781 1)" style="font-family:'Liberation Serif',serif;font-size:21.4px;font-weight:normal;font-style:normal" fill="#111">,</text><text transform="translate(1086.19 483.60) scale(1.011 1)" style="font-family:'Liberation Serif',serif;font-size:21.1px;font-weight:normal;font-style:italic" fill="#111">q</text><text transform="translate(1100.96 473.60) scale(1.226 1)" style="font-family:'Liberation Serif',serif;font-size:12.6px;font-weight:normal;font-style:italic" fill="#111">t</text><text transform="translate(1099.07 486.50) scale(1.157 1)" style="font-family:'Liberation Serif',serif;font-size:11.9px;font-weight:normal;font-style:italic" fill="#111">v</text><text transform="translate(1105.92 490.20) scale(1.206 1)" style="font-family:'Liberation Serif',serif;font-size:8.7px;font-weight:normal;font-style:italic" fill="#111">H</text><text transform="translate(1114.38 495.50) scale(1.647 1)" style="font-family:'Liberation Serif',serif;font-size:9.1px;font-weight:normal;font-style:italic" fill="#111">i</text><text transform="translate(1118.57 495.00) scale(1.071 1)" style="font-family:'Liberation Serif',serif;font-size:9.7px;font-weight:normal;font-style:normal" fill="#111">,</text><text transform="translate(1121.70 495.40) scale(2.000 1)" style="font-family:'Liberation Serif',serif;font-size:8.2px;font-weight:normal;font-style:italic" fill="#111">t</text></svg>
</div></body></html>
